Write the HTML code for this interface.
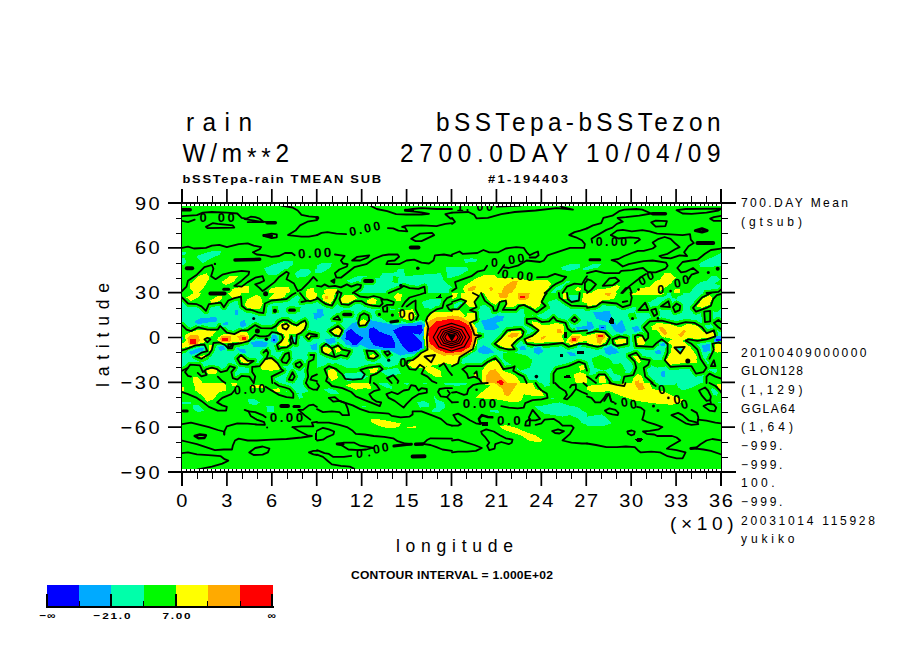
<!DOCTYPE html>
<html><head><meta charset="utf-8"><title>rain bSSTepa-bSSTezon</title>
<style>html,body{margin:0;padding:0;background:#fff}svg{display:block}text{fill:#000;white-space:pre}</style></head><body>
<svg width="904" height="654" viewBox="0 0 904 654">
<rect width="904" height="654" fill="#fff"/>
<g shape-rendering="crispEdges">
<rect x="168" y="202" width="568" height="2"/><rect x="168" y="471" width="568" height="2"/>
<rect x="181" y="189" width="2" height="297"/><rect x="720" y="189" width="2" height="297"/>
</g>
<defs><clipPath id="fc"><rect x="182" y="204" width="539" height="267"/></clipPath></defs>
<g clip-path="url(#fc)" shape-rendering="crispEdges">
<rect x="182" y="204" width="539" height="267" fill="#00fa00"/>
<polygon points="182.0,252.0 187.2,251.5 185.0,254.5 182.0,255.0" fill="#00ffaa"/>
<polygon points="182.0,257.5 185.0,258.3 186.5,262.0 183.5,265.0 182.0,265.0" fill="#00ffaa"/>
<polygon points="196.2,256.0 211.9,251.1 220.8,251.5 220.1,254.5 209.6,259.0 202.9,263.5 199.9,260.5" fill="#00ffaa"/>
<polygon points="264.1,268.7 271.6,265.0 286.5,260.5 293.3,260.5 293.3,264.2 285.0,270.9 277.6,274.7 267.9,274.7" fill="#00ffaa"/>
<polygon points="294.7,273.2 301.5,268.7 308.9,268.7 311.2,272.4 305.9,276.9 297.0,277.7" fill="#00ffaa"/>
<polygon points="314.9,268.7 317.0,268.7 317.0,273.2 314.9,272.4" fill="#00ffaa"/>
<polygon points="317.0,265.7 323.0,262.7 331.9,263.5 330.4,267.2 323.0,272.4 317.0,273.2" fill="#00ffaa"/>
<polygon points="346.9,280.7 357.3,276.2 366.3,275.9 368.5,279.2 379.7,277.7 382.7,273.2 396.1,272.4 398.4,268.7 403.6,268.7 405.1,276.2 421.5,274.7 440.9,273.2 443.9,280.7 452.0,287.4 452.0,293.0 357.3,293.0 360.3,286.6 346.9,283.6" fill="#00ffaa"/>
<polygon points="446.2,267.2 452.0,267.2 452.0,277.7 446.9,277.7" fill="#00ffaa"/>
<polygon points="463.2,259.7 471.4,258.3 477.4,259.0 475.9,262.0 465.4,262.7" fill="#00ffaa"/>
<polygon points="452.0,267.2 466.9,267.2 468.4,270.2 458.0,276.2 452.0,276.9" fill="#00ffaa"/>
<polygon points="561.0,267.2 571.5,263.5 580.4,264.2 579.7,268.0 570.0,270.9 562.5,270.2" fill="#00ffaa"/>
<polygon points="583.4,268.0 587.0,266.5 587.0,270.2 583.4,270.2" fill="#00ffaa"/>
<polygon points="550.6,293.0 556.5,285.9 562.5,282.1 570.0,280.7 571.5,283.6 565.5,288.1 562.5,293.0" fill="#00ffaa"/>
<polygon points="587.0,267.2 593.0,264.2 601.9,264.2 596.0,268.7 587.0,270.2" fill="#00ffaa"/>
<polygon points="698.3,264.2 706.5,259.7 716.9,255.3 722.0,252.3 722.0,265.7 713.9,266.5 706.5,267.2 700.5,266.5" fill="#00ffaa"/>
<polygon points="690.0,293.0 694.5,286.6 700.5,282.1 706.5,280.7 710.9,276.2 716.9,276.2 719.9,279.2 715.4,283.6 722.0,286.6 722.0,293.0" fill="#00ffaa"/>
<polygon points="182.0,300.5 188.0,303.5 196.9,304.2 201.4,306.4 205.9,310.9 208.9,304.2 220.8,302.7 223.8,307.2 228.3,300.5 234.3,298.2 241.0,296.7 241.7,305.7 246.2,309.4 252.2,310.2 258.2,312.4 263.4,313.2 264.9,303.5 271.6,300.5 286.5,299.0 292.5,294.5 300.0,294.5 305.9,300.5 310.4,301.2 317.0,299.0 317.0,383.0 182.0,383.0" fill="#00ffaa"/>
<polygon points="317.0,302.0 326.0,306.4 331.9,306.4 339.4,303.5 354.3,301.2 367.8,303.5 381.2,306.4 394.7,309.4 400.6,307.9 406.6,310.9 418.5,319.9 424.5,321.4 427.5,328.8 427.5,348.3 421.5,351.2 415.6,355.7 400.6,358.7 397.6,364.7 388.7,367.7 382.7,366.2 376.7,364.7 361.8,367.7 346.9,367.7 336.4,363.2 326.0,364.7 317.0,367.7" fill="#00ffaa"/>
<polygon points="421.5,302.0 430.5,299.0 440.9,299.0 443.9,304.9 436.5,309.4 424.5,307.9" fill="#00ffaa"/>
<polygon points="475.9,306.4 486.3,304.9 493.8,309.4 502.8,309.4 514.7,307.9 523.7,309.4 535.6,310.9 547.6,302.0 556.5,299.0 559.5,293.0 587.0,293.0 587.0,383.0 535.6,383.0 526.7,378.1 517.7,373.6 511.7,367.7 502.8,364.7 495.3,358.7 487.8,361.7 481.9,366.2 466.9,366.2 461.0,363.2 458.0,357.2 466.9,352.7 472.9,348.3 475.9,337.8 474.4,327.3 477.4,318.4 474.4,312.4" fill="#00ffaa"/>
<polygon points="587.0,293.0 722.0,293.0 722.0,383.0 587.0,383.0" fill="#00ffaa"/>
<polygon points="247.7,398.7 253.7,398.7 259.7,402.4 255.2,405.4 249.2,403.9" fill="#00ffaa"/>
<polygon points="192.5,405.4 198.4,405.4 204.4,410.6 198.4,412.1 193.9,409.9" fill="#00ffaa"/>
<polygon points="266.4,406.1 273.8,406.1 273.8,412.1 267.1,412.1" fill="#00ffaa"/>
<polygon points="182.0,402.4 191.0,402.4 191.0,403.9 182.0,403.9" fill="#00ffaa"/>
<polygon points="301.5,383.0 308.9,383.0 310.4,389.0 305.9,391.2 301.5,387.5" fill="#00ffaa"/>
<polygon points="297.0,393.5 301.5,393.5 303.7,397.9 299.2,398.7" fill="#00ffaa"/>
<polygon points="280.6,383.0 307.4,383.0 310.4,390.8 301.5,393.8 286.5,392.3 282.1,387.8" fill="#00ffaa"/>
<polygon points="323.0,389.7 328.9,388.2 336.4,390.5 339.4,394.2 330.4,393.5" fill="#00ffaa"/>
<polygon points="376.7,383.0 391.7,383.0 392.4,389.0 385.7,387.5" fill="#00ffaa"/>
<polygon points="403.6,383.0 409.6,383.0 406.6,385.2" fill="#00ffaa"/>
<polygon points="421.5,383.0 427.5,383.0 426.0,384.5" fill="#00ffaa"/>
<polygon points="417.1,402.4 423.0,400.9 429.0,403.2 429.0,406.9 420.0,407.6" fill="#00ffaa"/>
<polygon points="433.5,394.9 436.5,399.4 443.9,402.4 445.4,406.9 439.5,412.1 430.5,411.4 436.5,406.9" fill="#00ffaa"/>
<polygon points="443.9,383.0 452.0,383.0 452.0,386.0 445.4,385.2" fill="#00ffaa"/>
<polygon points="361.1,406.1 365.5,405.7 365.5,406.9 361.1,407.2" fill="#00ffaa"/>
<polygon points="534.9,406.1 544.6,405.4 553.5,403.2 559.5,402.4 568.5,405.4 577.4,406.9 583.4,411.4 587.0,412.9 587.0,424.8 581.9,423.3 578.9,418.8 570.0,415.1 562.5,416.6 553.5,415.1 544.6,413.6 538.6,409.9" fill="#00ffaa"/>
<polygon points="541.6,383.0 549.1,383.0 550.6,386.0 544.6,386.7" fill="#00ffaa"/>
<polygon points="549.1,397.9 553.5,397.9 553.5,399.4 549.1,399.4" fill="#00ffaa"/>
<polygon points="489.3,409.9 499.8,410.6 498.3,412.9 490.8,412.1" fill="#00ffaa"/>
<polygon points="452.0,383.0 466.9,383.0 465.4,385.2 452.0,386.0" fill="#00ffaa"/>
<polygon points="587.0,416.6 596.0,415.1 601.9,414.4 607.9,418.8 611.6,423.3 604.9,425.6 594.5,426.3 587.0,426.3" fill="#00ffaa"/>
<polygon points="676.6,383.0 700.5,383.0 691.5,387.5 682.6,390.5 678.1,387.5" fill="#00ffaa"/>
<polygon points="709.5,389.0 713.9,388.2 718.4,392.0 716.9,395.7 712.4,394.2" fill="#00ffaa"/>
<polygon points="718.4,401.7 722.0,401.7 722.0,403.2 718.4,403.2" fill="#00ffaa"/>
<polygon points="657.2,383.0 676.6,383.0 675.1,384.5 658.7,384.5" fill="#00ffaa"/>
<path d="M182.0 209.7L190.2 209.7" fill="none" stroke="#00fa00" stroke-width="7.9" stroke-linejoin="round" stroke-linecap="round"/>
<path d="M182.0 216.1L196.9 215.2L202.9 212.7L211.9 212.0L226.8 212.7L237.3 213.5L241.7 217.9L246.2 218.7L250.7 216.7L255.2 217.2L259.7 218.7L263.4 221.7L268.6 222.4" fill="none" stroke="#00fa00" stroke-width="6.2" stroke-linejoin="round" stroke-linecap="round"/>
<path d="M267.1 222.7L275.3 222.7" fill="none" stroke="#00fa00" stroke-width="7.9" stroke-linejoin="round" stroke-linecap="round"/>
<path d="M182.0 220.9L188.0 222.1L194.7 219.7" fill="none" stroke="#00fa00" stroke-width="6.2" stroke-linejoin="round" stroke-linecap="round"/>
<path d="M205.9 226.9L212.6 223.2L217.8 223.9L232.8 225.4L234.3 227.6L207.4 228.1Z" fill="#00fa00" stroke="#00fa00" stroke-width="6.2" stroke-linejoin="round" stroke-linecap="round"/>
<path d="M244.7 219.1L263.4 222.1L247.7 222.1" fill="none" stroke="#00fa00" stroke-width="6.2" stroke-linejoin="round" stroke-linecap="round"/>
<path d="M281.3 205.7L292.5 207.5L297.7 210.5L301.5 214.9L308.9 216.4L317.0 217.2" fill="none" stroke="#00fa00" stroke-width="6.2" stroke-linejoin="round" stroke-linecap="round"/>
<path d="M317.0 220.2L307.4 221.7L300.0 225.4L295.5 230.6L288.0 235.1L301.5 236.6L308.9 236.6L317.0 235.1" fill="none" stroke="#00fa00" stroke-width="6.2" stroke-linejoin="round" stroke-linecap="round"/>
<path d="M263.8 235.1L271.6 233.6L276.8 234.4L276.8 237.3L271.6 238.1L263.8 235.9Z" fill="#00fa00" stroke="#00fa00" stroke-width="6.2" stroke-linejoin="round" stroke-linecap="round"/>
<path d="M263.8 235.4L271.6 235.9" fill="none" stroke="#00fa00" stroke-width="7.4" stroke-linejoin="round" stroke-linecap="round"/>
<path d="M182.0 247.8L188.0 246.6L193.9 248.5L205.9 247.8L211.9 245.6L219.3 244.8L226.8 247.1L238.7 244.1L247.7 243.3L253.7 245.6L261.1 247.1L259.7 249.3L252.9 252.3L256.7 254.5L265.6 255.3L271.6 256.8L279.1 256.0L285.0 253.0L291.8 253.0L294.7 255.3" fill="none" stroke="#00fa00" stroke-width="6.2" stroke-linejoin="round" stroke-linecap="round"/>
<path d="M235.0 260.0L259.7 259.3" fill="none" stroke="#00fa00" stroke-width="7.9" stroke-linejoin="round" stroke-linecap="round"/>
<path d="M186.8 268.3L192.2 268.3" fill="none" stroke="#00fa00" stroke-width="8.4" stroke-linejoin="round" stroke-linecap="round"/>
<path d="M182.0 291.1L186.5 286.6L188.0 280.7L196.9 274.7L204.4 267.2L211.9 265.0L213.4 268.7L211.1 276.2L215.6 279.2L222.3 274.7L231.3 272.4L241.7 270.9L249.2 271.7L248.5 274.7L241.7 280.7L234.3 285.9L241.7 286.6L247.7 282.1L255.2 277.7L262.6 276.2L264.1 280.7L259.7 282.9L255.2 284.4L259.7 288.1L262.6 291.1L265.6 288.9L274.6 282.1L279.1 276.9L286.5 271.7L288.8 273.2L286.5 279.2L289.5 280.7L294.0 283.6L297.7 291.1L301.5 289.6L308.9 282.1L313.4 276.9L317.0 280.7" fill="none" stroke="#00fa00" stroke-width="6.2" stroke-linejoin="round" stroke-linecap="round"/>
<path d="M223.8 289.2L228.6 289.2" fill="none" stroke="#00fa00" stroke-width="7.4" stroke-linejoin="round" stroke-linecap="round"/>
<path d="M368.5 204.8L376.7 209.0L387.2 211.2L396.1 214.2L406.6 214.5L421.5 214.5L429.0 213.8L421.5 212.3L409.6 211.2L405.9 210.2L412.6 209.0L421.5 208.2L436.5 209.0L452.0 209.0" fill="none" stroke="#00fa00" stroke-width="6.2" stroke-linejoin="round" stroke-linecap="round"/>
<path d="M405.4 210.2L412.6 210.5" fill="none" stroke="#00fa00" stroke-width="7.4" stroke-linejoin="round" stroke-linecap="round"/>
<path d="M452.0 212.7L445.4 214.2L450.7 218.7L452.0 218.7" fill="none" stroke="#00fa00" stroke-width="6.2" stroke-linejoin="round" stroke-linecap="round"/>
<path d="M317.0 235.1L321.5 232.9L327.5 232.1L336.4 233.6L346.1 234.1" fill="none" stroke="#00fa00" stroke-width="6.2" stroke-linejoin="round" stroke-linecap="round"/>
<path d="M387.9 228.1L393.2 228.4L398.4 230.6L407.3 231.4L405.1 227.6L402.1 226.9L406.6 225.7L421.5 225.4L436.5 226.1L445.4 223.9L452.0 223.2" fill="none" stroke="#00fa00" stroke-width="6.2" stroke-linejoin="round" stroke-linecap="round"/>
<path d="M411.1 238.8L420.0 233.6L432.0 232.9L434.2 235.1L421.5 241.1L415.6 241.1Z" fill="#00fa00" stroke="#00fa00" stroke-width="6.2" stroke-linejoin="round" stroke-linecap="round"/>
<path d="M410.8 247.4L418.5 247.4" fill="none" stroke="#00fa00" stroke-width="8.4" stroke-linejoin="round" stroke-linecap="round"/>
<path d="M334.9 254.5L340.9 255.3L344.6 256.0L340.9 260.5L343.1 263.5L347.6 264.2L346.9 266.5L339.4 269.5L334.9 273.2L336.4 277.7L340.9 277.7L354.3 267.2L366.3 264.2L373.7 259.0L382.7 255.3L388.7 254.5L397.6 254.5L399.1 256.8L394.7 260.5L387.9 261.2L386.4 264.2L399.1 264.2L406.6 260.5L414.1 259.7L421.5 262.7L429.0 263.5L433.5 260.5L435.0 255.3L443.9 254.5L452.0 256.0" fill="none" stroke="#00fa00" stroke-width="6.2" stroke-linejoin="round" stroke-linecap="round"/>
<path d="M352.1 260.5L357.3 256.8L369.3 255.3L367.8 257.5L360.3 260.5Z" fill="#00fa00" stroke="#00fa00" stroke-width="6.2" stroke-linejoin="round" stroke-linecap="round"/>
<path d="M331.2 281.0L334.6 279.2L334.2 282.9Z" fill="#00fa00" stroke="#00fa00" stroke-width="6.2" stroke-linejoin="round" stroke-linecap="round"/>
<path d="M365.1 281.0L372.0 281.0" fill="none" stroke="#00fa00" stroke-width="8.4" stroke-linejoin="round" stroke-linecap="round"/>
<path d="M317.0 285.9L321.5 286.6L324.5 284.4L328.9 286.6L334.9 285.9L340.9 287.4L346.9 284.4L351.3 286.6L357.3 284.4L361.1 285.1L360.3 288.1L355.8 291.1L352.8 293.0" fill="none" stroke="#00fa00" stroke-width="6.2" stroke-linejoin="round" stroke-linecap="round"/>
<path d="M336.4 293.0L337.9 291.1L340.9 293.0" fill="none" stroke="#00fa00" stroke-width="6.2" stroke-linejoin="round" stroke-linecap="round"/>
<path d="M388.7 293.0L400.6 288.1L403.6 285.9L409.6 288.1L418.5 288.9L424.5 286.6L425.3 293.0" fill="none" stroke="#00fa00" stroke-width="6.2" stroke-linejoin="round" stroke-linecap="round"/>
<path d="M452.0 212.7L468.4 212.0L474.4 214.9L476.6 218.4L487.8 217.9L501.3 214.2L514.7 212.0L535.6 210.5L556.5 208.2L573.0 209.7L562.5 207.2L559.5 205.2" fill="none" stroke="#00fa00" stroke-width="6.2" stroke-linejoin="round" stroke-linecap="round"/>
<path d="M496.8 206.7L520.7 205.5" fill="none" stroke="#00fa00" stroke-width="6.2" stroke-linejoin="round" stroke-linecap="round"/>
<path d="M452.0 217.9L455.0 221.7L452.0 223.9" fill="none" stroke="#00fa00" stroke-width="6.2" stroke-linejoin="round" stroke-linecap="round"/>
<path d="M587.0 228.4L580.4 230.6L574.5 232.1L569.2 235.1L575.9 237.3L581.9 240.3L584.9 244.1L584.2 247.8L570.0 247.8L556.5 252.3L547.6 255.3L543.8 260.5L540.1 262.0L526.7 260.5L517.7 265.7L508.7 268.0L502.8 267.2" fill="none" stroke="#00fa00" stroke-width="6.2" stroke-linejoin="round" stroke-linecap="round"/>
<path d="M452.0 254.5L459.5 251.5L462.5 253.8L477.4 253.0L483.4 250.0L489.3 252.3L498.3 252.3L505.8 248.5L516.2 247.1L523.7 247.8L526.7 252.3L529.7 255.3L534.1 253.0L537.9 251.5L538.6 255.3L535.6 257.5L529.7 257.5" fill="none" stroke="#00fa00" stroke-width="6.2" stroke-linejoin="round" stroke-linecap="round"/>
<path d="M452.0 291.1L456.5 288.1L455.0 282.1L461.0 279.9L471.4 276.2L477.4 271.7L484.1 270.2L487.1 265.7" fill="none" stroke="#00fa00" stroke-width="6.2" stroke-linejoin="round" stroke-linecap="round"/>
<path d="M498.3 273.2L504.3 265.0" fill="none" stroke="#00fa00" stroke-width="6.2" stroke-linejoin="round" stroke-linecap="round"/>
<path d="M537.1 277.4L547.6 276.9L555.0 273.9L562.5 276.2L566.2 276.9L562.5 280.7L556.5 283.6L552.1 286.6L547.6 291.1L544.6 293.0" fill="none" stroke="#00fa00" stroke-width="6.2" stroke-linejoin="round" stroke-linecap="round"/>
<path d="M562.5 293.0L567.0 286.6L574.5 283.6L581.9 284.4L584.9 279.2L587.0 276.2" fill="none" stroke="#00fa00" stroke-width="6.2" stroke-linejoin="round" stroke-linecap="round"/>
<path d="M587.0 280.7L584.9 282.9L584.9 289.6L587.0 291.1" fill="none" stroke="#00fa00" stroke-width="6.2" stroke-linejoin="round" stroke-linecap="round"/>
<path d="M587.0 228.4L593.0 225.4L601.2 223.2L603.4 217.9L612.4 215.7L619.1 211.2L624.3 209.7L636.3 209.0L642.3 209.7L651.2 213.5L665.4 213.8" fill="none" stroke="#00fa00" stroke-width="6.2" stroke-linejoin="round" stroke-linecap="round"/>
<path d="M652.7 213.8L665.4 213.8" fill="none" stroke="#00fa00" stroke-width="7.9" stroke-linejoin="round" stroke-linecap="round"/>
<path d="M651.2 213.5L639.3 215.7L625.8 217.2L617.6 217.9L622.8 221.7L616.9 223.9L612.4 227.6L606.4 229.9L597.5 235.1L591.5 238.8L592.2 242.6" fill="none" stroke="#00fa00" stroke-width="6.2" stroke-linejoin="round" stroke-linecap="round"/>
<path d="M651.2 222.4L655.7 220.6L666.9 221.2L665.4 226.1L655.7 226.6Z" fill="#00fa00" stroke="#00fa00" stroke-width="6.2" stroke-linejoin="round" stroke-linecap="round"/>
<path d="M676.6 210.2L685.6 209.0L721.4 208.7L718.4 210.5L706.5 212.7L691.5 213.8L682.6 213.5Z" fill="#00fa00" stroke="#00fa00" stroke-width="6.2" stroke-linejoin="round" stroke-linecap="round"/>
<path d="M722.0 215.7L713.9 217.2L710.2 218.7L713.9 220.9L722.0 220.9" fill="none" stroke="#00fa00" stroke-width="6.2" stroke-linejoin="round" stroke-linecap="round"/>
<path d="M695.3 230.6L702.0 228.7L707.2 230.6L702.0 232.1Z" fill="#00fa00" stroke="#00fa00" stroke-width="7.4" stroke-linejoin="round" stroke-linecap="round"/>
<path d="M697.5 243.0L713.2 243.0" fill="none" stroke="#00fa00" stroke-width="8.4" stroke-linejoin="round" stroke-linecap="round"/>
<path d="M610.9 235.1L616.9 230.6L622.8 229.9L631.8 231.4L642.3 230.2L649.7 231.4L657.2 233.6L670.6 234.4L682.6 235.1L690.0 234.1L690.8 239.6L693.8 243.0L688.5 246.3L684.1 252.3L687.1 256.0L679.6 255.3L670.6 258.3L661.7 257.5L659.4 256.0L667.6 253.8L675.1 249.3L679.6 247.1L675.1 243.3L670.6 238.8L664.7 237.0L658.7 238.8L652.7 242.6L655.7 246.3L652.7 248.5L643.7 250.8L637.8 250.8L631.8 253.0L624.3 256.0L618.4 259.0L611.6 260.2L616.9 262.0L622.8 266.5L628.8 264.2L643.7 261.2L652.7 260.5L666.1 262.7L667.6 265.7L665.4 268.7L661.7 270.2L655.7 272.4L648.2 272.4L643.0 268.0L638.5 268.7L631.8 270.2L621.3 270.9L619.1 273.2L604.9 273.2L596.0 270.9L587.0 273.2" fill="none" stroke="#00fa00" stroke-width="6.2" stroke-linejoin="round" stroke-linecap="round"/>
<path d="M610.9 235.1L618.4 238.5L630.3 237.3L638.5 238.1L640.0 239.6L634.8 243.3" fill="none" stroke="#00fa00" stroke-width="6.2" stroke-linejoin="round" stroke-linecap="round"/>
<path d="M590.0 259.7L599.7 259.7" fill="none" stroke="#00fa00" stroke-width="7.4" stroke-linejoin="round" stroke-linecap="round"/>
<path d="M722.0 248.5L710.9 250.0L705.0 253.8L697.5 259.7L691.5 260.5L682.6 262.0L677.3 268.0L681.1 272.4L685.6 271.7L693.0 268.0L698.3 272.4L691.5 274.7L688.5 279.2" fill="none" stroke="#00fa00" stroke-width="6.2" stroke-linejoin="round" stroke-linecap="round"/>
<path d="M622.8 293.0L628.8 286.6L636.3 280.7L642.3 276.2L646.0 273.9" fill="none" stroke="#00fa00" stroke-width="6.2" stroke-linejoin="round" stroke-linecap="round"/>
<path d="M602.7 285.9L609.4 278.4L615.4 277.7L619.1 280.7L613.1 285.1Z" fill="#00fa00" stroke="#00fa00" stroke-width="6.2" stroke-linejoin="round" stroke-linecap="round"/>
<path d="M587.0 279.2L591.5 280.7L596.0 284.4L591.5 289.6L587.0 293.0" fill="none" stroke="#00fa00" stroke-width="6.2" stroke-linejoin="round" stroke-linecap="round"/>
<path d="M621.3 293.0L625.8 288.1L629.6 287.4L631.8 293.0" fill="none" stroke="#00fa00" stroke-width="6.2" stroke-linejoin="round" stroke-linecap="round"/>
<path d="M722.0 288.9L718.4 291.9L706.5 293.0" fill="none" stroke="#00fa00" stroke-width="6.2" stroke-linejoin="round" stroke-linecap="round"/>
<path d="M182.0 297.5L188.0 303.5L196.9 304.2L201.4 306.4L205.9 310.9L208.9 304.2L220.8 302.7L223.8 307.2L228.3 300.5L234.3 298.2L241.0 296.7L241.7 305.7L246.2 309.4L252.2 310.2L258.2 312.4L263.4 313.2L264.9 303.5L271.6 300.5L286.5 299.0L292.5 294.5L295.5 293.0" fill="none" stroke="#00fa00" stroke-width="6.2" stroke-linejoin="round" stroke-linecap="round"/>
<path d="M300.0 293.0L305.9 300.5L310.4 301.2L317.0 299.0" fill="none" stroke="#00fa00" stroke-width="6.2" stroke-linejoin="round" stroke-linecap="round"/>
<path d="M301.5 302.0L305.9 301.2" fill="none" stroke="#00fa00" stroke-width="6.2" stroke-linejoin="round" stroke-linecap="round"/>
<path d="M210.4 293.4L224.6 293.4" fill="none" stroke="#00fa00" stroke-width="8.4" stroke-linejoin="round" stroke-linecap="round"/>
<path d="M289.8 310.2L294.3 310.2" fill="none" stroke="#00fa00" stroke-width="7.6" stroke-linejoin="round" stroke-linecap="round"/>
<path d="M182.0 325.1L186.5 329.6L191.0 331.1L198.4 327.3L207.4 329.6L217.8 329.6L220.1 325.9L226.8 332.6L234.3 334.1L241.7 330.3L247.7 330.3L255.2 325.1L261.1 328.1L271.6 328.4L275.9 325.9L278.9 322.0L283.0 319.9L287.9 320.5L291.9 323.5L296.8 325.4L300.9 322.4L304.9 320.5L306.4 323.9L304.9 328.8L300.9 332.9L296.8 334.8L295.9 343.8L293.4 342.9L291.5 335.9L290.0 339.9L291.5 343.8L287.0 347.4L281.9 347.8L278.5 349.3L277.0 344.8L281.0 341.8L283.0 338.8L281.9 334.8L277.0 332.9L272.0 332.1L268.6 335.6L265.6 336.3L259.7 336.3L255.2 334.8L249.2 340.8L241.7 343.0L232.8 344.5L228.3 348.3L225.3 345.3L219.3 342.3L213.4 343.0L211.9 349.7L208.9 354.2L201.4 358.7L195.4 356.5L201.4 352.7L207.4 351.2L204.4 344.5L195.4 345.3L186.5 349.0L182.0 350.5" fill="none" stroke="#00fa00" stroke-width="6.2" stroke-linejoin="round" stroke-linecap="round"/>
<path d="M204.4 339.3L207.4 337.8L210.4 339.3L207.4 342.3Z" fill="#00fa00" stroke="#00fa00" stroke-width="6.2" stroke-linejoin="round" stroke-linecap="round"/>
<path d="M282.1 325.1L286.5 323.6L288.8 325.9L286.5 329.6L282.8 328.1Z" fill="#00fa00" stroke="#00fa00" stroke-width="6.2" stroke-linejoin="round" stroke-linecap="round"/>
<path d="M228.3 344.5L233.5 343.8L232.0 348.3L228.3 348.3Z" fill="#00fa00" stroke="#00fa00" stroke-width="6.2" stroke-linejoin="round" stroke-linecap="round"/>
<path d="M317.0 334.8L308.9 333.3L305.9 336.3L308.9 339.3L311.2 336.3L317.0 336.3" fill="none" stroke="#00fa00" stroke-width="6.2" stroke-linejoin="round" stroke-linecap="round"/>
<path d="M263.4 352.7L266.4 349.7L268.3 352.7L266.4 358.7" fill="none" stroke="#00fa00" stroke-width="6.2" stroke-linejoin="round" stroke-linecap="round"/>
<path d="M237.3 358.7L241.0 355.0L247.7 360.9L253.7 360.9L247.7 364.7L240.2 363.9Z" fill="#00fa00" stroke="#00fa00" stroke-width="6.2" stroke-linejoin="round" stroke-linecap="round"/>
<path d="M265.6 358.7L271.6 358.0L277.6 363.2L281.3 369.2L283.5 370.7L277.6 373.6L271.6 376.6L272.3 383.0" fill="none" stroke="#00fa00" stroke-width="6.2" stroke-linejoin="round" stroke-linecap="round"/>
<path d="M253.7 383.0L255.2 376.6L252.2 372.1L252.2 366.9L259.7 366.2L265.6 358.7" fill="none" stroke="#00fa00" stroke-width="6.2" stroke-linejoin="round" stroke-linecap="round"/>
<path d="M281.3 360.2L285.0 354.2L288.8 352.7L289.5 358.7L286.5 363.2L282.8 362.4Z" fill="#00fa00" stroke="#00fa00" stroke-width="6.2" stroke-linejoin="round" stroke-linecap="round"/>
<path d="M295.5 363.9L300.0 361.7L302.2 364.7L299.2 367.7L296.2 366.2Z" fill="#00fa00" stroke="#00fa00" stroke-width="6.2" stroke-linejoin="round" stroke-linecap="round"/>
<path d="M288.8 379.6L292.5 372.1L294.7 376.6L292.5 380.4Z" fill="#00fa00" stroke="#00fa00" stroke-width="6.2" stroke-linejoin="round" stroke-linecap="round"/>
<path d="M310.4 355.0L314.2 355.0L313.4 359.5L308.9 361.7L307.4 370.7L308.2 376.6L305.9 383.0" fill="none" stroke="#00fa00" stroke-width="6.2" stroke-linejoin="round" stroke-linecap="round"/>
<path d="M317.0 374.4L311.9 376.6L310.4 379.6L317.0 381.1" fill="none" stroke="#00fa00" stroke-width="6.2" stroke-linejoin="round" stroke-linecap="round"/>
<path d="M182.0 370.7L188.0 367.7L190.2 364.7L199.9 365.4L202.9 372.1L206.6 369.2L211.9 367.7L217.1 369.2L220.8 372.1L226.8 370.7L229.8 366.2L235.0 367.7L231.3 372.1L232.8 378.1L237.3 379.6L241.7 375.9L249.2 376.6L253.7 383.0" fill="none" stroke="#00fa00" stroke-width="6.2" stroke-linejoin="round" stroke-linecap="round"/>
<path d="M188.0 367.7L185.0 372.1L188.0 375.9L191.0 376.6" fill="none" stroke="#00fa00" stroke-width="6.2" stroke-linejoin="round" stroke-linecap="round"/>
<path d="M197.7 372.9L201.4 376.3L206.6 374.8L204.4 370.7" fill="none" stroke="#00fa00" stroke-width="6.2" stroke-linejoin="round" stroke-linecap="round"/>
<path d="M217.8 376.6L222.3 381.1L225.3 383.0" fill="none" stroke="#00fa00" stroke-width="6.2" stroke-linejoin="round" stroke-linecap="round"/>
<path d="M317.0 297.5L321.5 301.2L326.0 304.2L331.9 305.7L336.4 297.5L337.9 293.0" fill="none" stroke="#00fa00" stroke-width="6.2" stroke-linejoin="round" stroke-linecap="round"/>
<path d="M341.6 293.0L339.4 299.0L341.6 304.2L348.4 304.9L354.3 301.2L361.8 301.2L366.3 304.2L372.3 305.7L379.7 306.4L382.7 303.5L381.2 299.7L387.2 299.7L393.9 302.0L393.2 304.9L387.2 304.9L382.7 307.2L383.5 311.7L387.2 311.7L387.2 307.2" fill="none" stroke="#00fa00" stroke-width="6.2" stroke-linejoin="round" stroke-linecap="round"/>
<path d="M354.3 293.0L360.3 296.7L367.8 297.5L373.7 296.0L379.7 297.5L382.7 299.0" fill="none" stroke="#00fa00" stroke-width="6.2" stroke-linejoin="round" stroke-linecap="round"/>
<path d="M402.1 306.4L405.1 302.0L409.6 297.5L420.0 294.5L424.5 293.0" fill="none" stroke="#00fa00" stroke-width="6.2" stroke-linejoin="round" stroke-linecap="round"/>
<path d="M406.6 306.4L412.6 302.0L415.6 300.5L415.6 309.4L418.5 315.4L416.3 319.6" fill="none" stroke="#00fa00" stroke-width="6.2" stroke-linejoin="round" stroke-linecap="round"/>
<path d="M452.0 296.0L446.9 298.2L443.9 302.0L442.4 307.9L436.5 309.4L430.5 313.2L427.5 316.9L426.0 320.6L428.3 327.3L426.8 337.8L427.5 349.7L421.5 352.7L418.5 355.7L412.6 360.2L407.3 360.9L406.6 364.7L409.6 369.2L415.6 369.9L420.0 364.7L424.5 367.7L421.5 373.6L427.5 376.6L432.0 381.1L436.5 383.0" fill="none" stroke="#00fa00" stroke-width="6.2" stroke-linejoin="round" stroke-linecap="round"/>
<path d="M452.0 303.5L446.9 305.7L449.2 309.4L452.0 310.9" fill="none" stroke="#00fa00" stroke-width="6.2" stroke-linejoin="round" stroke-linecap="round"/>
<path d="M343.9 314.4L350.6 314.4" fill="none" stroke="#00fa00" stroke-width="7.9" stroke-linejoin="round" stroke-linecap="round"/>
<path d="M390.9 322.1L397.6 320.9" fill="none" stroke="#00fa00" stroke-width="7.4" stroke-linejoin="round" stroke-linecap="round"/>
<path d="M333.4 319.1L337.9 316.1L340.1 319.9Z" fill="#00fa00" stroke="#00fa00" stroke-width="6.2" stroke-linejoin="round" stroke-linecap="round"/>
<path d="M358.1 322.9L360.3 315.4L364.0 313.2L368.5 315.4L369.3 319.9L365.5 325.1L359.6 325.9Z" fill="#00fa00" stroke="#00fa00" stroke-width="6.2" stroke-linejoin="round" stroke-linecap="round"/>
<path d="M329.7 331.1L337.9 325.9L342.4 330.3L339.4 336.3L334.9 335.6Z" fill="#00fa00" stroke="#00fa00" stroke-width="6.2" stroke-linejoin="round" stroke-linecap="round"/>
<path d="M321.5 347.5L326.0 343.8L331.9 348.3L337.9 345.3L342.4 349.7L349.9 351.2L346.9 356.5L340.9 355.0L334.9 357.2L326.0 354.2L322.2 352.0Z" fill="#00fa00" stroke="#00fa00" stroke-width="6.2" stroke-linejoin="round" stroke-linecap="round"/>
<path d="M331.9 348.3L333.4 352.7L334.9 357.2" fill="none" stroke="#00fa00" stroke-width="6.2" stroke-linejoin="round" stroke-linecap="round"/>
<path d="M366.3 350.5L373.7 351.2L378.2 355.7L373.7 358.7L368.5 358.0Z" fill="#00fa00" stroke="#00fa00" stroke-width="6.2" stroke-linejoin="round" stroke-linecap="round"/>
<path d="M384.2 352.0L388.7 351.2L390.2 353.5L387.2 355.7Z" fill="#00fa00" stroke="#00fa00" stroke-width="6.2" stroke-linejoin="round" stroke-linecap="round"/>
<path d="M424.5 356.5L435.0 355.0L431.2 362.4Z" fill="#00fa00" stroke="#00fa00" stroke-width="6.2" stroke-linejoin="round" stroke-linecap="round"/>
<path d="M328.9 383.0L326.0 381.1L327.5 376.6L324.5 369.2L328.9 366.2L336.4 369.2L342.4 374.4L345.4 378.9L352.8 379.6L361.8 378.9L364.8 374.4L360.3 369.9L367.8 367.7L379.7 366.2L382.7 369.2L376.7 373.6L370.8 375.9L370.0 383.0" fill="none" stroke="#00fa00" stroke-width="6.2" stroke-linejoin="round" stroke-linecap="round"/>
<path d="M387.2 378.1L393.2 375.1L398.4 381.1L397.6 383.0" fill="none" stroke="#00fa00" stroke-width="6.2" stroke-linejoin="round" stroke-linecap="round"/>
<path d="M387.2 378.1L391.7 383.0" fill="none" stroke="#00fa00" stroke-width="6.2" stroke-linejoin="round" stroke-linecap="round"/>
<path d="M439.5 366.2L443.9 363.2L448.4 370.7L452.0 375.1" fill="none" stroke="#00fa00" stroke-width="6.2" stroke-linejoin="round" stroke-linecap="round"/>
<path d="M571.5 319.9L574.5 316.9L577.4 319.9L574.5 322.1Z" fill="#00fa00" stroke="#00fa00" stroke-width="6.2" stroke-linejoin="round" stroke-linecap="round"/>
<path d="M452.0 302.0L461.0 299.0L466.2 301.2L458.0 309.4L452.0 309.4" fill="none" stroke="#00fa00" stroke-width="6.2" stroke-linejoin="round" stroke-linecap="round"/>
<path d="M472.9 293.0L478.9 296.0L474.4 302.0L476.6 307.2L469.9 310.2L475.9 312.4L476.6 319.9L469.9 322.9L472.9 330.3L474.4 334.8L481.1 335.6L475.9 337.8L474.4 343.8L472.9 349.0L466.9 352.7L459.5 357.2L458.0 363.2L452.0 366.2" fill="none" stroke="#00fa00" stroke-width="6.2" stroke-linejoin="round" stroke-linecap="round"/>
<path d="M481.1 293.0L482.5 296.0L484.9 300.9L492.9 306.9L493.8 310.9L496.8 310.5L499.8 302.0L505.8 300.5L506.4 303.9L502.8 309.9L515.8 309.9L518.8 306.0L523.7 304.9L531.7 309.0L536.7 312.4L545.6 306.0L541.6 302.0L544.6 296.0L546.8 293.0" fill="none" stroke="#00fa00" stroke-width="6.2" stroke-linejoin="round" stroke-linecap="round"/>
<path d="M558.8 293.0L559.5 297.5L565.5 302.0L571.5 305.7L587.0 306.4" fill="none" stroke="#00fa00" stroke-width="6.2" stroke-linejoin="round" stroke-linecap="round"/>
<path d="M567.0 293.0L567.7 299.0L571.5 302.0L578.9 300.5L579.7 293.0" fill="none" stroke="#00fa00" stroke-width="6.2" stroke-linejoin="round" stroke-linecap="round"/>
<path d="M494.6 343.8L501.3 337.8L507.3 330.3L520.7 328.8L523.7 331.8L522.2 336.3L516.2 340.8L511.7 345.3L514.7 349.4L508.7 349.7L499.8 347.5Z" fill="#00fa00" stroke="#00fa00" stroke-width="6.2" stroke-linejoin="round" stroke-linecap="round"/>
<path d="M526.7 319.1L535.6 318.4L541.6 322.1L549.1 321.4L553.5 316.9L556.5 320.6L565.5 322.9L567.7 328.8L571.5 331.8L587.0 330.3" fill="none" stroke="#00fa00" stroke-width="6.2" stroke-linejoin="round" stroke-linecap="round"/>
<path d="M587.0 343.8L578.9 343.8L568.5 346.8L562.5 343.0L549.1 344.5L535.6 345.3L526.7 343.8L524.4 339.3L532.6 335.6L538.6 330.3L532.6 325.9L526.7 322.9L526.7 319.1" fill="none" stroke="#00fa00" stroke-width="6.2" stroke-linejoin="round" stroke-linecap="round"/>
<path d="M462.5 369.2L466.9 366.2L481.9 366.2L487.8 361.7L495.3 358.0L499.8 363.2L503.5 369.2L511.7 367.7L514.7 366.2L513.2 370.7L517.7 373.6L523.7 376.6L526.7 383.0" fill="none" stroke="#00fa00" stroke-width="6.2" stroke-linejoin="round" stroke-linecap="round"/>
<path d="M462.5 369.2L466.9 373.6L468.4 378.1L474.4 376.6L478.9 378.9L481.9 383.0" fill="none" stroke="#00fa00" stroke-width="6.2" stroke-linejoin="round" stroke-linecap="round"/>
<path d="M474.4 373.6L476.6 371.4L477.4 376.6" fill="none" stroke="#00fa00" stroke-width="6.2" stroke-linejoin="round" stroke-linecap="round"/>
<path d="M553.5 383.0L553.5 373.6L556.5 369.2L568.5 366.2L578.9 361.7L584.9 363.9L587.0 370.7" fill="none" stroke="#00fa00" stroke-width="6.2" stroke-linejoin="round" stroke-linecap="round"/>
<path d="M587.0 307.9L596.0 306.4L601.9 302.0L616.9 303.5L622.8 307.2L630.3 304.9L631.8 297.5L630.3 293.0" fill="none" stroke="#00fa00" stroke-width="6.2" stroke-linejoin="round" stroke-linecap="round"/>
<path d="M622.8 302.0L627.3 301.2" fill="none" stroke="#00fa00" stroke-width="6.2" stroke-linejoin="round" stroke-linecap="round"/>
<path d="M638.5 310.2L645.2 302.7L648.2 310.2Z" fill="#00fa00" stroke="#00fa00" stroke-width="6.2" stroke-linejoin="round" stroke-linecap="round"/>
<path d="M660.9 306.4L668.4 301.2L669.9 307.2Z" fill="#00fa00" stroke="#00fa00" stroke-width="6.2" stroke-linejoin="round" stroke-linecap="round"/>
<path d="M672.9 307.2L676.6 303.5L680.3 305.7L679.6 310.2L675.1 312.1Z" fill="#00fa00" stroke="#00fa00" stroke-width="6.2" stroke-linejoin="round" stroke-linecap="round"/>
<path d="M651.2 310.2L655.7 308.7L657.2 313.9L654.2 316.1Z" fill="#00fa00" stroke="#00fa00" stroke-width="6.2" stroke-linejoin="round" stroke-linecap="round"/>
<path d="M710.9 293.0L702.0 297.5L693.0 307.9L696.0 311.7L706.5 307.9L710.9 305.7L713.2 299.0L716.9 295.2L722.0 293.7" fill="none" stroke="#00fa00" stroke-width="6.2" stroke-linejoin="round" stroke-linecap="round"/>
<path d="M704.2 311.7L710.2 310.9L710.2 321.4L705.0 322.1Z" fill="#00fa00" stroke="#00fa00" stroke-width="6.2" stroke-linejoin="round" stroke-linecap="round"/>
<path d="M722.0 322.9L718.4 319.9L713.9 322.9L718.4 327.3L722.0 329.6" fill="none" stroke="#00fa00" stroke-width="6.2" stroke-linejoin="round" stroke-linecap="round"/>
<path d="M643.7 327.3L649.7 321.4L661.7 320.6L676.6 324.4L685.6 322.1L694.5 322.9L702.0 327.3L706.5 333.3L713.9 330.3L715.4 336.3L706.5 339.3L697.5 340.8L688.5 339.3L685.6 340.8L691.5 343.8L697.5 349.7L700.5 358.7L706.5 367.7L703.5 372.1L696.0 373.6L691.5 366.2L682.6 366.2L670.6 366.9L664.7 360.2L667.6 352.7L667.6 343.8L661.7 339.3L655.7 343.8L652.7 346.8L636.3 346.0L634.8 336.3L637.8 334.8L642.3 335.6L645.2 340.8L648.2 337.8L648.2 333.3Z" fill="#00fa00" stroke="#00fa00" stroke-width="6.2" stroke-linejoin="round" stroke-linecap="round"/>
<path d="M674.4 347.5L684.8 346.8L680.3 353.5Z" fill="#00fa00" stroke="#00fa00" stroke-width="6.2" stroke-linejoin="round" stroke-linecap="round"/>
<path d="M587.0 333.3L596.0 331.1L604.9 332.6L610.1 337.8L606.4 344.5L597.5 346.8L587.0 344.5" fill="none" stroke="#00fa00" stroke-width="6.2" stroke-linejoin="round" stroke-linecap="round"/>
<path d="M612.4 339.3L619.9 336.3L627.3 337.8L627.3 343.8L616.9 346.0L613.1 343.8Z" fill="#00fa00" stroke="#00fa00" stroke-width="6.2" stroke-linejoin="round" stroke-linecap="round"/>
<path d="M628.8 355.7L636.3 352.7L640.8 358.7L649.7 360.2L648.2 364.7L643.7 367.7L645.2 376.6L652.7 383.0" fill="none" stroke="#00fa00" stroke-width="6.2" stroke-linejoin="round" stroke-linecap="round"/>
<path d="M628.8 355.7L634.8 361.7L636.3 367.7L633.3 375.1L624.3 376.6L622.8 383.0" fill="none" stroke="#00fa00" stroke-width="6.2" stroke-linejoin="round" stroke-linecap="round"/>
<path d="M587.0 376.6L591.5 379.6L596.0 383.0" fill="none" stroke="#00fa00" stroke-width="6.2" stroke-linejoin="round" stroke-linecap="round"/>
<path d="M596.0 378.1L598.9 374.4L604.9 374.4L610.9 383.0" fill="none" stroke="#00fa00" stroke-width="6.2" stroke-linejoin="round" stroke-linecap="round"/>
<path d="M722.0 343.8L718.4 342.3L712.4 343.8L713.9 349.7L709.5 358.7" fill="none" stroke="#00fa00" stroke-width="6.2" stroke-linejoin="round" stroke-linecap="round"/>
<path d="M710.9 366.2L713.9 360.2L715.4 366.2Z" fill="#00fa00" stroke="#00fa00" stroke-width="6.2" stroke-linejoin="round" stroke-linecap="round"/>
<path d="M706.5 383.0L706.5 376.6L709.5 373.6L715.4 376.6L722.0 378.9" fill="none" stroke="#00fa00" stroke-width="6.2" stroke-linejoin="round" stroke-linecap="round"/>
<path d="M182.0 392.0L188.0 394.2L196.9 397.9L201.4 400.9L208.9 406.9L217.8 410.6L226.1 410.6L226.8 406.9L222.3 405.4L217.1 402.4L222.3 397.9L231.3 394.2L235.0 389.7" fill="none" stroke="#00fa00" stroke-width="6.2" stroke-linejoin="round" stroke-linecap="round"/>
<path d="M265.6 386.7L271.6 390.5L279.1 394.9L286.5 397.2L293.3 397.9L293.3 393.5L289.5 389.0L285.0 387.5L279.1 386.0L274.6 383.0" fill="none" stroke="#00fa00" stroke-width="6.2" stroke-linejoin="round" stroke-linecap="round"/>
<path d="M305.9 383.0L308.9 387.5L313.4 389.7L317.0 389.7" fill="none" stroke="#00fa00" stroke-width="6.2" stroke-linejoin="round" stroke-linecap="round"/>
<path d="M182.0 424.1L191.0 422.6L199.9 424.8L208.9 427.1L217.8 430.0L223.8 431.5L224.3 434.5" fill="none" stroke="#00fa00" stroke-width="6.2" stroke-linejoin="round" stroke-linecap="round"/>
<path d="M224.3 434.5L224.6 430.8L226.8 426.3L237.3 423.3L247.7 423.6L256.7 424.5L264.9 424.8L264.1 422.1L256.7 419.6L250.7 415.9L248.5 411.4L244.7 409.9" fill="none" stroke="#00fa00" stroke-width="6.2" stroke-linejoin="round" stroke-linecap="round"/>
<path d="M248.5 411.4L255.2 412.1L262.6 415.1L265.6 417.3" fill="none" stroke="#00fa00" stroke-width="6.2" stroke-linejoin="round" stroke-linecap="round"/>
<path d="M281.3 406.1L288.0 406.1" fill="none" stroke="#00fa00" stroke-width="8.4" stroke-linejoin="round" stroke-linecap="round"/>
<path d="M294.0 406.4L299.2 406.4" fill="none" stroke="#00fa00" stroke-width="7.4" stroke-linejoin="round" stroke-linecap="round"/>
<path d="M298.5 409.9L303.0 409.9L308.9 405.4L313.4 404.7L317.0 406.9" fill="none" stroke="#00fa00" stroke-width="6.2" stroke-linejoin="round" stroke-linecap="round"/>
<path d="M298.5 409.9L304.5 415.1L310.4 419.6" fill="none" stroke="#00fa00" stroke-width="6.2" stroke-linejoin="round" stroke-linecap="round"/>
<path d="M292.5 427.1L301.5 426.3L313.4 426.3L311.9 422.6L317.0 421.8" fill="none" stroke="#00fa00" stroke-width="6.2" stroke-linejoin="round" stroke-linecap="round"/>
<path d="M292.5 427.1L298.5 430.8L307.4 435.3L311.9 436.0L301.5 437.5L286.5 439.0L271.6 439.7L256.7 440.5L247.7 440.5L238.7 438.6L235.0 440.5L232.8 445.7L232.0 449.5L223.8 449.5L214.9 450.2L205.9 447.2L196.9 444.2L188.0 442.0L182.0 440.5" fill="none" stroke="#00fa00" stroke-width="6.2" stroke-linejoin="round" stroke-linecap="round"/>
<path d="M194.7 436.0L199.9 434.5L205.9 435.3L204.4 438.0L198.4 438.3Z" fill="#00fa00" stroke="#00fa00" stroke-width="6.9" stroke-linejoin="round" stroke-linecap="round"/>
<path d="M249.2 452.4L255.2 448.0L262.6 446.5L269.4 448.7L267.9 452.4L262.6 454.7L253.7 455.0Z" fill="#00fa00" stroke="#00fa00" stroke-width="6.2" stroke-linejoin="round" stroke-linecap="round"/>
<path d="M317.0 450.9L313.4 450.9L308.9 452.4L313.4 454.4L317.0 455.0" fill="none" stroke="#00fa00" stroke-width="6.2" stroke-linejoin="round" stroke-linecap="round"/>
<path d="M182.0 453.2L188.0 452.4L196.9 454.4L211.9 455.4L220.8 456.2L224.6 459.2L228.3 460.7L222.3 463.6L211.9 466.6L204.4 468.1L196.9 469.6L188.0 470.4L182.0 471.1" fill="none" stroke="#00fa00" stroke-width="6.2" stroke-linejoin="round" stroke-linecap="round"/>
<path d="M183.2 410.9L187.2 410.9" fill="none" stroke="#00fa00" stroke-width="7.4" stroke-linejoin="round" stroke-linecap="round"/>
<path d="M317.0 383.0L319.2 386.0L317.0 389.7" fill="none" stroke="#00fa00" stroke-width="6.2" stroke-linejoin="round" stroke-linecap="round"/>
<path d="M328.9 383.0L331.9 386.0L342.4 388.2L351.3 392.0L355.8 396.4L364.8 400.2L372.3 403.2L379.7 406.1L381.2 402.4L376.7 401.7L372.3 398.7L369.3 394.2L373.7 391.2L379.7 389.7L376.7 385.2L373.7 383.0" fill="none" stroke="#00fa00" stroke-width="6.2" stroke-linejoin="round" stroke-linecap="round"/>
<path d="M386.4 394.2L388.7 397.9L394.7 400.9L400.6 405.4L403.6 407.6L406.6 403.9L412.6 397.9L418.5 394.2L426.8 392.7L426.8 389.0L421.5 388.2L418.5 390.5L415.6 386.0L411.1 385.2L408.8 389.7L403.6 390.5L397.6 394.2L391.7 392.0Z" fill="#00fa00" stroke="#00fa00" stroke-width="6.2" stroke-linejoin="round" stroke-linecap="round"/>
<path d="M452.0 388.2L445.4 388.2L439.5 389.0L438.0 392.0L440.9 396.4L446.9 397.2L449.9 393.5L447.7 390.5" fill="none" stroke="#00fa00" stroke-width="6.2" stroke-linejoin="round" stroke-linecap="round"/>
<path d="M446.9 397.2L452.0 402.4" fill="none" stroke="#00fa00" stroke-width="6.2" stroke-linejoin="round" stroke-linecap="round"/>
<path d="M328.9 397.9L334.9 397.2L339.4 400.9L345.4 403.2L347.6 408.4L349.1 415.1L342.4 415.1L339.4 412.1L331.9 411.4L323.0 412.1L317.0 409.1" fill="none" stroke="#00fa00" stroke-width="6.2" stroke-linejoin="round" stroke-linecap="round"/>
<path d="M328.9 397.9L333.4 401.7L339.4 400.9" fill="none" stroke="#00fa00" stroke-width="6.2" stroke-linejoin="round" stroke-linecap="round"/>
<path d="M339.4 400.9L352.8 405.4L360.3 409.1L369.3 412.1L379.7 412.9L388.7 413.6L391.7 415.9L400.6 417.3L409.6 416.6L412.6 414.4L412.6 411.4L421.5 411.4L433.5 415.9L440.9 418.8L446.9 424.1L452.0 425.6" fill="none" stroke="#00fa00" stroke-width="6.2" stroke-linejoin="round" stroke-linecap="round"/>
<path d="M317.0 422.6L328.9 422.6L339.4 424.8L346.9 427.1L352.8 430.8L355.8 433.8L364.8 434.5L373.7 436.0L384.2 436.8L393.2 438.3L397.6 441.2L405.1 443.5L411.1 444.2" fill="none" stroke="#00fa00" stroke-width="6.2" stroke-linejoin="round" stroke-linecap="round"/>
<path d="M393.9 446.0L406.6 444.5L411.4 444.2" fill="none" stroke="#00fa00" stroke-width="7.4" stroke-linejoin="round" stroke-linecap="round"/>
<path d="M317.0 430.8L323.0 427.8L328.9 429.3L334.2 431.5L333.4 434.5L327.5 436.8L323.0 439.7L317.0 440.5" fill="none" stroke="#00fa00" stroke-width="6.2" stroke-linejoin="round" stroke-linecap="round"/>
<path d="M373.7 448.0L369.3 447.2L360.3 445.7L354.3 442.7L343.9 442.7L337.2 443.9L342.4 445.7L348.4 449.5L358.8 450.2L366.3 449.5L372.3 448.0" fill="none" stroke="#00fa00" stroke-width="6.2" stroke-linejoin="round" stroke-linecap="round"/>
<path d="M337.2 443.9L343.1 444.2" fill="none" stroke="#00fa00" stroke-width="7.4" stroke-linejoin="round" stroke-linecap="round"/>
<path d="M415.6 444.2L423.0 443.9" fill="none" stroke="#00fa00" stroke-width="7.9" stroke-linejoin="round" stroke-linecap="round"/>
<path d="M423.0 443.9L427.5 439.7L430.5 438.3L452.0 438.6" fill="none" stroke="#00fa00" stroke-width="6.2" stroke-linejoin="round" stroke-linecap="round"/>
<path d="M423.0 443.9L430.5 445.0L436.5 447.2L442.4 449.5L452.0 450.9" fill="none" stroke="#00fa00" stroke-width="6.2" stroke-linejoin="round" stroke-linecap="round"/>
<path d="M412.6 456.5L424.5 456.2" fill="none" stroke="#00fa00" stroke-width="8.4" stroke-linejoin="round" stroke-linecap="round"/>
<path d="M317.0 450.2L324.5 453.2L328.9 453.9L333.4 456.9L343.9 456.9L351.3 455.9" fill="none" stroke="#00fa00" stroke-width="6.2" stroke-linejoin="round" stroke-linecap="round"/>
<path d="M317.0 454.7L323.0 456.9L327.5 460.7L331.9 464.4L340.9 465.9L349.9 466.6L354.3 468.9" fill="none" stroke="#00fa00" stroke-width="6.2" stroke-linejoin="round" stroke-linecap="round"/>
<path d="M452.0 392.7L456.5 392.0L463.9 394.9L466.9 394.2L468.4 389.0L472.9 385.2L478.9 383.7L487.8 383.0" fill="none" stroke="#00fa00" stroke-width="6.2" stroke-linejoin="round" stroke-linecap="round"/>
<path d="M452.0 402.4L458.0 402.1" fill="none" stroke="#00fa00" stroke-width="6.2" stroke-linejoin="round" stroke-linecap="round"/>
<path d="M501.3 406.1L508.7 407.6L517.7 408.4L523.7 407.6L525.2 403.2L532.6 400.2L541.6 399.4L547.6 397.9L546.8 393.5L541.6 390.5L538.6 387.5L535.6 383.0" fill="none" stroke="#00fa00" stroke-width="6.2" stroke-linejoin="round" stroke-linecap="round"/>
<path d="M555.0 383.0L559.5 387.5L565.5 391.2L567.0 394.9L564.0 398.7L567.0 399.4L571.5 394.9L575.9 389.0L575.9 384.5L571.5 385.2L570.0 387.5" fill="none" stroke="#00fa00" stroke-width="6.2" stroke-linejoin="round" stroke-linecap="round"/>
<path d="M575.9 389.0L581.9 392.0L587.0 394.2" fill="none" stroke="#00fa00" stroke-width="6.2" stroke-linejoin="round" stroke-linecap="round"/>
<path d="M583.4 383.0L587.0 386.0" fill="none" stroke="#00fa00" stroke-width="6.2" stroke-linejoin="round" stroke-linecap="round"/>
<path d="M453.5 415.1L458.0 413.6L463.9 416.6L469.9 420.3L475.9 423.3L480.4 424.1" fill="none" stroke="#00fa00" stroke-width="6.2" stroke-linejoin="round" stroke-linecap="round"/>
<path d="M453.5 415.1L456.5 420.3L461.0 424.1L458.0 425.6L452.0 425.6" fill="none" stroke="#00fa00" stroke-width="6.2" stroke-linejoin="round" stroke-linecap="round"/>
<path d="M492.3 417.3L487.8 417.0L481.9 415.1L478.9 418.8L480.4 423.3L486.3 423.3" fill="none" stroke="#00fa00" stroke-width="6.9" stroke-linejoin="round" stroke-linecap="round"/>
<path d="M528.9 417.3L532.6 409.9L540.1 418.8L535.6 420.3L529.7 420.3Z" fill="#00fa00" stroke="#00fa00" stroke-width="6.2" stroke-linejoin="round" stroke-linecap="round"/>
<path d="M525.2 425.6L529.7 425.6L530.0 418.8L525.9 421.8Z" fill="#00fa00" stroke="#00fa00" stroke-width="6.2" stroke-linejoin="round" stroke-linecap="round"/>
<path d="M535.6 424.8L541.6 423.3L544.6 419.6L553.5 418.8L559.5 422.6L562.5 425.6L571.5 425.6L573.7 427.8L570.0 433.8L562.5 440.5L571.5 442.7L581.9 443.5L587.0 443.5" fill="none" stroke="#00fa00" stroke-width="6.2" stroke-linejoin="round" stroke-linecap="round"/>
<path d="M552.1 431.1L558.0 429.3L564.0 431.1L559.5 433.5L555.0 433.0Z" fill="#00fa00" stroke="#00fa00" stroke-width="6.2" stroke-linejoin="round" stroke-linecap="round"/>
<path d="M481.1 431.5L486.3 429.3L493.8 431.5L499.8 435.3L505.8 438.3L512.5 439.7L511.7 442.7L508.7 444.2L501.3 442.0L495.3 444.2L494.6 448.7L489.3 450.2L487.1 445.7L489.3 442.7L484.9 436.8L481.9 433.8Z" fill="#00fa00" stroke="#00fa00" stroke-width="6.2" stroke-linejoin="round" stroke-linecap="round"/>
<path d="M452.0 440.5L458.0 439.7L466.9 442.7L474.4 445.0L481.9 448.0L475.9 450.9L466.9 451.7L458.0 451.7L452.0 452.4" fill="none" stroke="#00fa00" stroke-width="6.2" stroke-linejoin="round" stroke-linecap="round"/>
<path d="M587.0 396.4L591.5 397.9L595.2 402.4L600.4 402.4L604.2 397.9L606.4 394.2L609.4 394.2L610.9 400.9" fill="none" stroke="#00fa00" stroke-width="6.2" stroke-linejoin="round" stroke-linecap="round"/>
<path d="M604.2 400.9L608.7 393.8L611.6 401.7L613.9 402.4" fill="none" stroke="#00fa00" stroke-width="6.2" stroke-linejoin="round" stroke-linecap="round"/>
<path d="M637.0 406.9L640.8 407.6L644.5 410.6L643.7 415.1L642.3 419.6L646.7 421.8L654.2 424.1L662.4 427.1L658.7 429.3L649.7 430.8L643.0 431.5L646.7 433.8L654.2 434.5L657.2 436.0L664.7 436.0L672.1 436.0L676.6 437.5L680.3 440.5L675.1 443.5L669.9 446.5L666.9 448.7L676.6 450.2L685.6 452.4L682.6 458.4L676.6 458.4L667.6 456.2L660.2 452.4L651.2 451.7L640.8 452.4L637.8 450.2L634.8 447.2L625.8 446.5L616.9 447.2L606.4 447.2L596.0 445.0L587.0 443.5" fill="none" stroke="#00fa00" stroke-width="6.2" stroke-linejoin="round" stroke-linecap="round"/>
<path d="M604.9 410.6L609.4 408.4L615.4 409.9L618.4 412.9L617.6 415.1L612.4 414.4L607.2 412.9Z" fill="#00fa00" stroke="#00fa00" stroke-width="6.2" stroke-linejoin="round" stroke-linecap="round"/>
<path d="M627.3 431.5L631.8 430.5L634.8 431.5L634.0 434.5L631.1 435.3L628.1 433.8Z" fill="#00fa00" stroke="#00fa00" stroke-width="6.2" stroke-linejoin="round" stroke-linecap="round"/>
<path d="M609.4 383.0L616.9 384.8L624.3 386.0L625.5 383.0" fill="none" stroke="#00fa00" stroke-width="6.2" stroke-linejoin="round" stroke-linecap="round"/>
<path d="M651.2 383.0L655.7 386.0" fill="none" stroke="#00fa00" stroke-width="6.2" stroke-linejoin="round" stroke-linecap="round"/>
<path d="M671.4 415.1L678.1 412.9L682.6 415.1L688.5 420.3L697.5 422.6L698.3 424.1L691.5 424.8L685.6 423.3L678.1 418.8Z" fill="#00fa00" stroke="#00fa00" stroke-width="6.2" stroke-linejoin="round" stroke-linecap="round"/>
<path d="M691.5 409.9L696.8 412.9L698.3 417.3L697.8 422.1" fill="none" stroke="#00fa00" stroke-width="6.2" stroke-linejoin="round" stroke-linecap="round"/>
<path d="M697.8 419.6L706.5 420.6L715.4 422.6L722.0 423.6" fill="none" stroke="#00fa00" stroke-width="6.2" stroke-linejoin="round" stroke-linecap="round"/>
<path d="M699.0 390.5L705.0 387.5L708.0 390.5L710.9 396.4L710.2 400.2L706.5 400.9L702.0 395.7Z" fill="#00fa00" stroke="#00fa00" stroke-width="6.2" stroke-linejoin="round" stroke-linecap="round"/>
<path d="M703.5 406.1L708.0 403.9L713.9 404.7L716.2 407.6L714.7 411.4L709.5 410.6Z" fill="#00fa00" stroke="#00fa00" stroke-width="6.2" stroke-linejoin="round" stroke-linecap="round"/>
<path d="M709.5 383.0L715.4 386.0L719.9 390.5L722.0 393.5" fill="none" stroke="#00fa00" stroke-width="6.2" stroke-linejoin="round" stroke-linecap="round"/>
<path d="M710.2 400.2L710.9 403.2L708.7 403.9" fill="none" stroke="#00fa00" stroke-width="6.2" stroke-linejoin="round" stroke-linecap="round"/>
<path d="M690.8 448.4L696.0 448.0L700.5 444.2L706.5 440.5L712.4 439.0L722.0 440.5" fill="none" stroke="#00fa00" stroke-width="6.2" stroke-linejoin="round" stroke-linecap="round"/>
<path d="M696.0 448.7L703.5 449.5L710.9 450.9L722.0 454.7" fill="none" stroke="#00fa00" stroke-width="6.2" stroke-linejoin="round" stroke-linecap="round"/>
<path d="M690.8 448.4L696.0 448.1" fill="none" stroke="#00fa00" stroke-width="7.4" stroke-linejoin="round" stroke-linecap="round"/>
<polygon points="393.2,276.2 398.8,276.9 397.3,283.6 392.4,282.1" fill="#00fa00"/>
<polygon points="388.7,293.0 400.6,288.1 403.6,285.9 409.6,288.1 418.5,288.9 424.5,286.6 425.3,293.0" fill="#00fa00"/>
<polygon points="182.0,367.7 190.2,364.7 199.9,365.4 202.9,372.1 206.6,369.2 211.9,367.7 217.1,369.2 220.8,372.1 226.8,370.7 229.8,366.2 235.0,367.7 231.3,372.1 232.8,378.1 237.3,379.6 241.7,375.9 249.2,376.6 253.7,382.6 253.7,383.0 182.0,383.0" fill="#00fa00"/>
<polygon points="252.2,366.9 258.2,367.7 262.6,370.7 271.6,369.2 283.5,370.7 277.6,373.6 271.6,376.6 273.1,383.0 253.7,383.0 254.4,373.6" fill="#00fa00"/>
<polygon points="305.9,383.0 307.4,376.6 308.9,361.7 314.9,358.7 317.0,360.2 317.0,383.0" fill="#00fa00"/>
<polygon points="288.8,379.6 292.5,372.1 294.7,376.6 292.5,380.4" fill="#00fa00"/>
<polygon points="182.0,325.1 186.5,329.6 191.0,331.1 198.4,327.3 207.4,329.6 217.8,329.6 220.1,325.9 226.8,332.6 234.3,334.1 241.7,330.3 247.7,330.3 255.2,325.1 261.1,328.1 271.6,328.4 275.9,325.9 278.9,322.0 283.0,319.9 287.9,320.5 291.9,323.5 296.8,325.4 300.9,322.4 304.9,320.5 306.4,323.9 304.9,328.8 300.9,332.9 296.8,334.8 295.9,343.8 293.4,342.9 291.5,335.9 290.0,339.9 291.5,343.8 287.0,347.4 281.9,347.8 278.5,349.3 277.0,344.8 281.0,341.8 283.0,338.8 281.9,334.8 277.0,332.9 272.0,332.1 268.6,335.6 265.6,336.3 259.7,336.3 255.2,334.8 249.2,340.8 241.7,343.0 232.8,344.5 228.3,348.3 225.3,345.3 219.3,342.3 213.4,343.0 211.9,349.7 208.9,354.2 201.4,358.7 195.4,356.5 201.4,352.7 207.4,351.2 204.4,344.5 195.4,345.3 186.5,349.0 182.0,350.5" fill="#00fa00"/>
<polygon points="271.6,306.4 277.6,305.7 279.1,313.2 272.3,313.9" fill="#00fa00"/>
<polygon points="286.5,307.2 300.7,307.2 300.0,311.7 287.3,311.7" fill="#00fa00"/>
<polygon points="357.3,315.4 361.8,313.2 367.8,313.9 369.3,319.9 364.8,325.1 359.6,325.9 358.1,321.4" fill="#00fa00"/>
<polygon points="328.9,331.1 337.9,325.9 342.4,330.3 339.4,336.3 334.9,335.6" fill="#00fa00"/>
<polygon points="321.5,346.8 326.0,343.8 331.9,348.3 337.9,345.3 342.4,349.7 349.9,351.2 346.9,355.7 340.9,355.0 334.9,357.2 326.0,354.2 322.2,352.0" fill="#00fa00"/>
<polygon points="366.3,350.5 373.7,351.2 378.2,355.7 373.7,358.7 368.5,358.0" fill="#00fa00"/>
<polygon points="317.0,369.2 326.0,366.2 336.4,364.7 346.9,369.2 361.8,367.7 376.7,364.7 382.7,366.2 379.7,370.7 367.8,376.6 358.8,383.0 317.0,383.0" fill="#00fa00"/>
<polygon points="382.7,383.0 388.7,376.6 400.6,373.6 406.6,367.7 408.1,364.7 412.6,367.7 421.5,372.9 427.5,376.6 426.0,383.0" fill="#00fa00"/>
<polygon points="374.9,310.9 381.8,309.0 391.8,310.0 398.8,309.0 398.8,319.9 393.8,322.9 386.9,322.0 380.9,317.9 375.8,316.0" fill="#00fa00"/>
<polygon points="523.7,309.4 535.6,310.9 541.6,306.4 547.6,302.0 550.6,307.9 541.6,313.9 532.6,315.4 525.2,318.4" fill="#00fa00"/>
<polygon points="556.5,299.0 559.5,293.0 587.0,293.0 587.0,306.4 571.5,306.4 565.5,302.0" fill="#00fa00"/>
<polygon points="547.6,322.9 556.5,319.9 565.5,322.9 571.5,331.8 587.0,330.3 587.0,343.8 578.9,343.8 568.5,346.8 562.5,343.8 549.1,344.5 535.6,345.3 526.7,343.8 523.7,337.8 532.6,334.8 538.6,330.3 532.6,325.9 526.7,322.9 526.7,319.1 535.6,318.4 541.6,322.1" fill="#00fa00"/>
<polygon points="495.3,343.8 501.3,337.8 507.3,330.3 520.7,328.8 523.7,331.8 522.2,336.3 516.2,340.8 511.7,345.3 514.7,349.0 508.7,349.7 499.8,347.5" fill="#00fa00"/>
<polygon points="502.8,352.7 514.7,352.7 526.7,355.7 532.6,360.2 529.7,367.7 520.7,370.7 514.7,366.2 508.7,363.2 502.8,358.7" fill="#00fa00"/>
<polygon points="553.5,383.0 553.5,373.6 556.5,369.2 568.5,366.2 578.9,361.7 584.9,363.2 587.0,370.7 587.0,383.0" fill="#00fa00"/>
<polygon points="461.0,367.7 466.9,366.2 481.9,366.2 487.8,361.7 495.3,358.7 502.8,364.7 511.7,367.7 517.7,373.6 526.7,378.1 535.6,383.0 466.9,383.0" fill="#00fa00"/>
<polygon points="587.0,293.0 631.8,293.0 630.3,304.9 622.8,307.2 616.9,303.5 601.9,302.0 596.0,306.4 587.0,307.9" fill="#00fa00"/>
<polygon points="643.7,327.3 649.7,321.4 661.7,319.9 676.6,324.4 685.6,322.1 694.5,322.9 702.0,327.3 706.5,333.3 713.9,330.3 715.4,336.3 706.5,339.3 697.5,340.8 688.5,339.3 691.5,343.8 697.5,349.7 700.5,358.7 706.5,367.7 703.5,372.1 696.0,373.6 691.5,366.2 682.6,366.2 670.6,366.9 664.7,360.2 667.6,352.7 667.6,343.8 661.7,339.3 655.7,343.8 652.7,346.8 636.3,346.0 634.8,336.3 642.3,334.8 646.7,339.3 648.2,333.3" fill="#00fa00"/>
<polygon points="587.0,333.3 596.0,331.1 604.9,332.6 610.1,337.8 606.4,344.5 597.5,346.8 587.0,344.5" fill="#00fa00"/>
<polygon points="612.4,339.3 619.9,336.3 627.3,337.8 627.3,343.8 616.9,346.0 613.1,343.8" fill="#00fa00"/>
<polygon points="628.8,355.7 636.3,352.7 640.8,358.7 649.7,360.2 648.2,364.7 643.7,367.7 645.2,376.6 652.7,383.0 622.8,383.0 624.3,376.6 633.3,375.1 636.3,367.7 634.8,361.7" fill="#00fa00"/>
<polygon points="691.5,307.9 700.5,299.0 710.9,293.0 722.0,293.0 722.0,307.9 716.9,312.4 706.5,309.4 697.5,312.4" fill="#00fa00"/>
<polygon points="709.5,358.7 713.9,349.7 712.4,343.8 718.4,342.3 722.0,343.8 722.0,383.0 706.5,383.0 706.5,376.6 715.4,376.6 718.4,364.7" fill="#00fa00"/>
<polygon points="587.0,376.6 596.0,373.6 604.9,374.4 610.9,383.0 587.0,383.0" fill="#00fa00"/>
<polygon points="591.5,358.7 600.4,355.0 609.4,358.7 615.4,366.2 603.4,370.7 594.5,367.7" fill="#00fa00"/>
<polygon points="630.3,293.0 658.7,293.0 657.2,297.5 649.7,302.0 643.7,301.2 637.8,307.9 631.8,306.4" fill="#00fa00"/>
<polygon points="670.6,293.0 679.6,293.0 676.6,299.0 672.1,297.5" fill="#00fa00"/>
<polygon points="627.3,313.9 634.8,312.4 637.0,318.4 630.3,320.6" fill="#00fa00"/>
<polygon points="609.4,364.7 621.3,363.2 625.8,370.7 622.8,376.6 613.9,373.6" fill="#00fa00"/>
<polygon points="646.7,359.5 664.7,359.5 666.9,366.2 657.2,367.7 649.7,364.7" fill="#00fa00"/>
<polygon points="291.8,336.6 294.0,343.5 295.5,343.5 296.2,335.6" fill="#00ffaa"/>
<polygon points="343.9,373.6 361.8,372.1 367.8,376.6 358.8,382.6 346.9,381.1" fill="#00ffaa"/>
<polygon points="379.7,370.7 397.6,367.7 400.6,373.6 388.7,376.6" fill="#00ffaa"/>
<polygon points="193.9,322.1 199.9,318.4 216.3,316.9 217.1,321.4 204.4,322.9 198.4,324.4" fill="none" stroke="#00ffaa" stroke-width="3.5" stroke-linejoin="round"/>
<polygon points="235.0,310.2 238.0,310.2 238.0,315.4 235.5,315.4" fill="none" stroke="#00ffaa" stroke-width="3.5" stroke-linejoin="round"/>
<polygon points="239.5,322.1 244.7,319.9 246.2,325.1 243.2,327.3 240.2,325.9" fill="none" stroke="#00ffaa" stroke-width="3.5" stroke-linejoin="round"/>
<polygon points="222.3,322.9 228.3,322.1 227.5,325.1 223.1,325.1" fill="none" stroke="#00ffaa" stroke-width="3.5" stroke-linejoin="round"/>
<polygon points="250.7,342.3 259.7,340.8 268.6,343.0 265.6,346.8 253.7,347.5" fill="none" stroke="#00ffaa" stroke-width="3.5" stroke-linejoin="round"/>
<polygon points="217.8,346.8 223.8,346.0 225.3,349.7 220.1,351.2" fill="none" stroke="#00ffaa" stroke-width="3.5" stroke-linejoin="round"/>
<polygon points="188.7,352.0 198.4,348.3 204.4,347.5 202.9,350.5 191.0,355.0" fill="none" stroke="#00ffaa" stroke-width="3.5" stroke-linejoin="round"/>
<polygon points="237.3,348.3 244.7,349.0 246.2,353.5 240.2,352.0" fill="none" stroke="#00ffaa" stroke-width="3.5" stroke-linejoin="round"/>
<polygon points="272.3,334.8 276.8,335.6 276.8,343.8 273.1,342.3" fill="none" stroke="#00ffaa" stroke-width="3.5" stroke-linejoin="round"/>
<polygon points="313.4,313.2 317.0,312.4 317.0,319.9 314.2,319.1" fill="none" stroke="#00ffaa" stroke-width="3.5" stroke-linejoin="round"/>
<polygon points="310.4,345.3 317.0,343.0 317.0,349.7 311.9,349.7" fill="none" stroke="#00ffaa" stroke-width="3.5" stroke-linejoin="round"/>
<polygon points="182.0,336.3 184.2,336.3 184.2,340.8 182.0,340.8" fill="none" stroke="#00ffaa" stroke-width="3.5" stroke-linejoin="round"/>
<polygon points="340.9,337.8 346.9,328.8 352.8,322.9 369.3,319.9 379.7,322.1 394.7,325.1 406.6,323.6 421.5,322.1 424.5,324.4 425.3,348.3 420.0,351.2 412.6,352.7 400.6,355.7 394.7,352.7 384.2,348.3 369.3,349.0 361.8,345.3 354.3,345.3 346.9,345.3" fill="none" stroke="#00ffaa" stroke-width="3.5" stroke-linejoin="round"/>
<polygon points="317.0,309.4 323.0,309.4 323.7,315.4 320.0,318.4 317.0,317.6" fill="none" stroke="#00ffaa" stroke-width="3.5" stroke-linejoin="round"/>
<polygon points="324.5,339.3 334.9,337.8 335.7,342.3 328.9,344.5" fill="none" stroke="#00ffaa" stroke-width="3.5" stroke-linejoin="round"/>
<polygon points="481.1,320.6 489.3,319.1 496.8,315.4 504.3,316.1 502.8,320.6 495.3,322.9 499.8,327.3 493.8,330.3 484.9,329.6" fill="none" stroke="#00ffaa" stroke-width="3.5" stroke-linejoin="round"/>
<polygon points="477.4,349.7 483.4,345.3 489.3,348.3 493.8,352.7 484.9,354.2 478.9,352.7" fill="none" stroke="#00ffaa" stroke-width="3.5" stroke-linejoin="round"/>
<polygon points="519.2,346.8 525.2,346.0 525.9,349.7 519.9,349.7" fill="none" stroke="#00ffaa" stroke-width="3.5" stroke-linejoin="round"/>
<polygon points="534.1,348.3 540.1,346.8 543.1,351.2 538.6,355.0 534.1,352.7" fill="none" stroke="#00ffaa" stroke-width="3.5" stroke-linejoin="round"/>
<polygon points="567.0,352.0 574.5,352.7 575.9,356.5 570.0,355.7" fill="none" stroke="#00ffaa" stroke-width="3.5" stroke-linejoin="round"/>
<polygon points="575.9,327.3 587.0,325.9 587.0,328.8 577.4,329.6" fill="none" stroke="#00ffaa" stroke-width="3.5" stroke-linejoin="round"/>
<polygon points="577.4,343.8 580.4,344.5 578.9,346.8" fill="none" stroke="#00ffaa" stroke-width="3.5" stroke-linejoin="round"/>
<polygon points="594.5,314.7 601.9,311.7 609.4,312.4 610.9,316.9 603.4,319.1 597.5,317.6" fill="none" stroke="#00ffaa" stroke-width="3.5" stroke-linejoin="round"/>
<polygon points="587.0,321.4 591.5,322.1 594.5,327.3 590.0,330.3 587.0,328.8" fill="none" stroke="#00ffaa" stroke-width="3.5" stroke-linejoin="round"/>
<polygon points="616.9,325.9 621.3,320.6 625.8,330.3 621.3,333.3 615.4,330.3" fill="none" stroke="#00ffaa" stroke-width="3.5" stroke-linejoin="round"/>
<polygon points="631.8,327.3 637.8,325.9 640.0,330.3 634.8,332.6" fill="none" stroke="#00ffaa" stroke-width="3.5" stroke-linejoin="round"/>
<polygon points="604.2,348.3 610.9,346.0 616.9,349.7 619.1,352.7 609.4,355.0 604.9,352.7" fill="none" stroke="#00ffaa" stroke-width="3.5" stroke-linejoin="round"/>
<polygon points="654.9,351.2 660.2,349.7 660.9,353.5 655.7,354.2" fill="none" stroke="#00ffaa" stroke-width="3.5" stroke-linejoin="round"/>
<polygon points="660.2,343.8 664.7,343.0 665.4,346.0 660.9,346.0" fill="none" stroke="#00ffaa" stroke-width="3.5" stroke-linejoin="round"/>
<polygon points="702.0,345.3 709.5,343.8 709.5,351.2 703.5,352.0" fill="none" stroke="#00ffaa" stroke-width="3.5" stroke-linejoin="round"/>
<polygon points="660.9,372.1 664.7,370.7 665.4,376.6 661.7,377.4" fill="none" stroke="#00ffaa" stroke-width="3.5" stroke-linejoin="round"/>
<polygon points="193.9,322.1 199.9,318.4 216.3,316.9 217.1,321.4 204.4,322.9 198.4,324.4" fill="#00aaff"/>
<polygon points="235.0,310.2 238.0,310.2 238.0,315.4 235.5,315.4" fill="#00aaff"/>
<polygon points="239.5,322.1 244.7,319.9 246.2,325.1 243.2,327.3 240.2,325.9" fill="#00aaff"/>
<polygon points="222.3,322.9 228.3,322.1 227.5,325.1 223.1,325.1" fill="#00aaff"/>
<polygon points="250.7,342.3 259.7,340.8 268.6,343.0 265.6,346.8 253.7,347.5" fill="#00aaff"/>
<polygon points="217.8,346.8 223.8,346.0 225.3,349.7 220.1,351.2" fill="#00aaff"/>
<polygon points="188.7,352.0 198.4,348.3 204.4,347.5 202.9,350.5 191.0,355.0" fill="#00aaff"/>
<polygon points="237.3,348.3 244.7,349.0 246.2,353.5 240.2,352.0" fill="#00aaff"/>
<polygon points="272.3,334.8 276.8,335.6 276.8,343.8 273.1,342.3" fill="#00aaff"/>
<polygon points="313.4,313.2 317.0,312.4 317.0,319.9 314.2,319.1" fill="#00aaff"/>
<polygon points="310.4,345.3 317.0,343.0 317.0,349.7 311.9,349.7" fill="#00aaff"/>
<polygon points="182.0,336.3 184.2,336.3 184.2,340.8 182.0,340.8" fill="#00aaff"/>
<polygon points="340.9,337.8 346.9,328.8 352.8,322.9 369.3,319.9 379.7,322.1 394.7,325.1 406.6,323.6 421.5,322.1 424.5,324.4 425.3,348.3 420.0,351.2 412.6,352.7 400.6,355.7 394.7,352.7 384.2,348.3 369.3,349.0 361.8,345.3 354.3,345.3 346.9,345.3" fill="#00aaff"/>
<polygon points="317.0,309.4 323.0,309.4 323.7,315.4 320.0,318.4 317.0,317.6" fill="#00aaff"/>
<polygon points="324.5,339.3 334.9,337.8 335.7,342.3 328.9,344.5" fill="#00aaff"/>
<polygon points="481.1,320.6 489.3,319.1 496.8,315.4 504.3,316.1 502.8,320.6 495.3,322.9 499.8,327.3 493.8,330.3 484.9,329.6" fill="#00aaff"/>
<polygon points="477.4,349.7 483.4,345.3 489.3,348.3 493.8,352.7 484.9,354.2 478.9,352.7" fill="#00aaff"/>
<polygon points="519.2,346.8 525.2,346.0 525.9,349.7 519.9,349.7" fill="#00aaff"/>
<polygon points="534.1,348.3 540.1,346.8 543.1,351.2 538.6,355.0 534.1,352.7" fill="#00aaff"/>
<polygon points="567.0,352.0 574.5,352.7 575.9,356.5 570.0,355.7" fill="#00aaff"/>
<polygon points="575.9,327.3 587.0,325.9 587.0,328.8 577.4,329.6" fill="#00aaff"/>
<polygon points="577.4,343.8 580.4,344.5 578.9,346.8" fill="#00aaff"/>
<polygon points="594.5,314.7 601.9,311.7 609.4,312.4 610.9,316.9 603.4,319.1 597.5,317.6" fill="#00aaff"/>
<polygon points="587.0,321.4 591.5,322.1 594.5,327.3 590.0,330.3 587.0,328.8" fill="#00aaff"/>
<polygon points="616.9,325.9 621.3,320.6 625.8,330.3 621.3,333.3 615.4,330.3" fill="#00aaff"/>
<polygon points="631.8,327.3 637.8,325.9 640.0,330.3 634.8,332.6" fill="#00aaff"/>
<polygon points="604.2,348.3 610.9,346.0 616.9,349.7 619.1,352.7 609.4,355.0 604.9,352.7" fill="#00aaff"/>
<polygon points="654.9,351.2 660.2,349.7 660.9,353.5 655.7,354.2" fill="#00aaff"/>
<polygon points="660.2,343.8 664.7,343.0 665.4,346.0 660.9,346.0" fill="#00aaff"/>
<polygon points="702.0,345.3 709.5,343.8 709.5,351.2 703.5,352.0" fill="#00aaff"/>
<polygon points="660.9,372.1 664.7,370.7 665.4,376.6 661.7,377.4" fill="#00aaff"/>
<polygon points="593.0,312.4 609.4,310.9 611.6,317.6 616.9,325.1 622.1,319.9 626.1,330.3 621.3,333.6 615.4,331.1 609.4,322.9 596.0,318.4" fill="#00aaff"/>
<polygon points="273.4,338.5 275.3,338.5 275.3,340.5 273.4,340.5" fill="none" stroke="#00aaff" stroke-width="4.5" stroke-linejoin="round"/>
<polygon points="346.1,331.8 351.3,328.8 355.8,333.3 360.3,336.3 363.3,337.8 357.3,344.5 352.8,345.3 349.9,340.8 345.4,339.3" fill="none" stroke="#00aaff" stroke-width="4.5" stroke-linejoin="round"/>
<polygon points="368.5,328.8 373.7,327.3 379.7,331.8 385.7,334.1 391.7,336.3 394.7,342.3 394.7,347.5 382.7,347.5 373.7,345.3 369.3,337.8" fill="none" stroke="#00aaff" stroke-width="4.5" stroke-linejoin="round"/>
<polygon points="393.2,330.3 400.6,326.6 412.6,325.9 421.5,325.1 423.0,330.3 420.0,334.8 412.6,333.3 421.5,342.3 422.3,347.5 415.6,351.2 408.1,352.0 402.1,345.3 397.6,337.8" fill="none" stroke="#00aaff" stroke-width="4.5" stroke-linejoin="round"/>
<polygon points="601.2,327.0 604.2,327.0 604.2,328.2 601.2,328.2" fill="none" stroke="#00aaff" stroke-width="4.5" stroke-linejoin="round"/>
<polygon points="716.2,338.5 722.0,338.5 722.0,340.5 716.2,340.5" fill="none" stroke="#00aaff" stroke-width="4.5" stroke-linejoin="round"/>
<polygon points="273.4,338.5 275.3,338.5 275.3,340.5 273.4,340.5" fill="#0000ff"/>
<polygon points="346.1,331.8 351.3,328.8 355.8,333.3 360.3,336.3 363.3,337.8 357.3,344.5 352.8,345.3 349.9,340.8 345.4,339.3" fill="#0000ff"/>
<polygon points="368.5,328.8 373.7,327.3 379.7,331.8 385.7,334.1 391.7,336.3 394.7,342.3 394.7,347.5 382.7,347.5 373.7,345.3 369.3,337.8" fill="#0000ff"/>
<polygon points="393.2,330.3 400.6,326.6 412.6,325.9 421.5,325.1 423.0,330.3 420.0,334.8 412.6,333.3 421.5,342.3 422.3,347.5 415.6,351.2 408.1,352.0 402.1,345.3 397.6,337.8" fill="#0000ff"/>
<polygon points="601.2,327.0 604.2,327.0 604.2,328.2 601.2,328.2" fill="#0000ff"/>
<polygon points="716.2,338.5 722.0,338.5 722.0,340.5 716.2,340.5" fill="#0000ff"/>
<polygon points="189.5,284.4 198.4,276.2 206.6,273.2 209.6,277.7 204.4,286.6 198.4,293.0 193.9,293.0 189.5,288.1" fill="none" stroke="#00fa00" stroke-width="5.5" stroke-linejoin="round"/>
<polygon points="221.6,282.1 229.8,276.2 238.0,276.2 233.5,282.1 225.3,285.1" fill="none" stroke="#00fa00" stroke-width="5.5" stroke-linejoin="round"/>
<polygon points="229.8,293.0 232.8,288.9 241.7,286.6 248.5,285.9 248.5,293.0" fill="none" stroke="#00fa00" stroke-width="5.5" stroke-linejoin="round"/>
<polygon points="268.6,293.0 270.1,288.9 277.6,286.6 288.8,286.6 290.3,291.1 288.8,293.0" fill="none" stroke="#00fa00" stroke-width="5.5" stroke-linejoin="round"/>
<polygon points="305.9,293.0 307.4,288.9 313.4,288.1 314.9,293.0" fill="none" stroke="#00fa00" stroke-width="5.5" stroke-linejoin="round"/>
<polygon points="324.5,289.6 336.4,288.9 337.9,293.0 323.7,293.0" fill="none" stroke="#00fa00" stroke-width="5.5" stroke-linejoin="round"/>
<polygon points="463.9,286.6 474.4,279.2 484.9,274.7 493.8,274.7 496.8,277.7 504.3,278.4 514.7,277.7 529.7,280.7 547.6,279.9 551.3,283.6 544.6,293.0 465.4,293.0 463.2,289.6" fill="none" stroke="#00fa00" stroke-width="5.5" stroke-linejoin="round"/>
<polygon points="575.2,288.9 578.2,286.6 581.2,288.9 578.9,291.1 575.9,291.1" fill="none" stroke="#00fa00" stroke-width="5.5" stroke-linejoin="round"/>
<polygon points="636.3,293.0 637.8,288.9 649.7,286.6 654.2,282.1 660.2,279.2 664.7,273.2 670.6,273.2 675.9,277.7 670.6,283.6 664.7,288.1 657.2,293.0" fill="none" stroke="#00fa00" stroke-width="5.5" stroke-linejoin="round"/>
<polygon points="591.5,293.0 596.0,289.6 609.4,288.1 616.9,285.1 619.9,286.6 615.4,293.0" fill="none" stroke="#00fa00" stroke-width="5.5" stroke-linejoin="round"/>
<polygon points="674.4,289.6 679.6,288.9 680.3,293.0 674.4,293.0" fill="none" stroke="#00fa00" stroke-width="5.5" stroke-linejoin="round"/>
<polygon points="186.5,297.5 193.9,293.0 201.4,293.0 198.4,297.5 191.0,301.2" fill="none" stroke="#00fa00" stroke-width="5.5" stroke-linejoin="round"/>
<polygon points="210.4,300.5 217.8,296.0 223.1,296.7 219.3,301.2 211.9,303.5" fill="none" stroke="#00fa00" stroke-width="5.5" stroke-linejoin="round"/>
<polygon points="227.5,293.0 241.7,293.0 240.2,296.0 232.8,298.2" fill="none" stroke="#00fa00" stroke-width="5.5" stroke-linejoin="round"/>
<polygon points="244.7,304.2 247.7,299.0 256.7,294.5 261.1,297.5 262.6,303.5 259.7,309.4 252.2,308.7 246.2,307.2" fill="none" stroke="#00fa00" stroke-width="5.5" stroke-linejoin="round"/>
<polygon points="268.6,299.0 274.6,293.0 286.5,293.0 285.0,296.7 277.6,299.7" fill="none" stroke="#00fa00" stroke-width="5.5" stroke-linejoin="round"/>
<polygon points="305.9,293.0 317.0,293.0 317.0,297.5 310.4,300.5 306.7,297.5" fill="none" stroke="#00fa00" stroke-width="5.5" stroke-linejoin="round"/>
<polygon points="185.0,334.8 189.5,332.6 198.4,329.6 207.4,330.3 216.3,331.1 211.9,336.3 205.9,337.8 204.4,342.3 196.9,344.5 188.0,346.8 182.0,348.3 182.0,343.8 185.7,340.8" fill="none" stroke="#00fa00" stroke-width="5.5" stroke-linejoin="round"/>
<polygon points="216.3,339.3 222.3,335.6 231.3,334.8 241.7,331.8 247.7,332.6 249.2,337.8 244.7,340.8 232.8,342.3 220.8,342.3" fill="none" stroke="#00fa00" stroke-width="5.5" stroke-linejoin="round"/>
<polygon points="208.9,345.3 212.6,344.5 211.9,350.5 208.9,351.2" fill="none" stroke="#00fa00" stroke-width="5.5" stroke-linejoin="round"/>
<polygon points="197.7,357.2 204.4,355.0 206.6,357.2 201.4,359.5" fill="none" stroke="#00fa00" stroke-width="5.5" stroke-linejoin="round"/>
<polygon points="276.5,328.8 278.9,325.0 283.0,322.4 287.9,322.9 291.9,325.0 296.8,326.9 301.9,323.5 305.4,321.4 305.8,325.0 302.8,329.9 298.9,333.9 291.9,333.9 288.9,334.4 289.4,337.8 287.9,339.9 289.4,343.8 287.0,345.9 281.0,346.3 278.9,344.8 281.9,340.8 284.9,337.8 284.0,334.4 280.0,332.9 277.0,330.9" fill="none" stroke="#00fa00" stroke-width="5.5" stroke-linejoin="round"/>
<polygon points="239.5,357.2 243.2,356.5 247.7,360.9 252.2,360.9 247.7,363.2 241.7,362.4" fill="none" stroke="#00fa00" stroke-width="5.5" stroke-linejoin="round"/>
<polygon points="259.7,366.2 265.6,360.2 271.6,358.7 277.6,363.2 280.6,369.2 271.6,370.7 262.6,369.9" fill="none" stroke="#00fa00" stroke-width="5.5" stroke-linejoin="round"/>
<polygon points="205.9,370.7 211.9,368.4 217.1,369.9 216.3,374.4 208.9,374.4" fill="none" stroke="#00fa00" stroke-width="5.5" stroke-linejoin="round"/>
<polygon points="192.5,376.6 198.4,377.4 202.9,383.0 192.5,383.0" fill="none" stroke="#00fa00" stroke-width="5.5" stroke-linejoin="round"/>
<polygon points="307.4,336.3 310.4,334.8 310.4,337.8 308.2,338.5" fill="none" stroke="#00fa00" stroke-width="5.5" stroke-linejoin="round"/>
<polygon points="428.3,316.9 433.5,312.4 452.0,311.7 452.0,363.2 443.9,357.2 435.0,355.0 427.5,350.5 426.0,337.8 428.3,327.3" fill="none" stroke="#00fa00" stroke-width="5.5" stroke-linejoin="round"/>
<polygon points="408.1,364.7 412.6,360.2 421.5,352.7 427.5,350.5 435.0,355.0 443.9,357.2 452.0,358.7 452.0,364.7 445.4,363.2 436.5,364.7 427.5,366.2 421.5,367.7 412.6,367.7" fill="none" stroke="#00fa00" stroke-width="5.5" stroke-linejoin="round"/>
<polygon points="421.5,366.9 430.5,366.2 440.9,370.7 441.7,377.4 435.0,376.6 427.5,372.1" fill="none" stroke="#00fa00" stroke-width="5.5" stroke-linejoin="round"/>
<polygon points="321.5,296.0 326.0,293.0 334.9,293.0 333.4,299.0 330.4,304.2 324.5,301.2" fill="none" stroke="#00fa00" stroke-width="5.5" stroke-linejoin="round"/>
<polygon points="340.9,299.0 344.6,294.5 352.8,294.5 357.3,298.2 352.8,300.5 346.9,303.5 341.6,302.7" fill="none" stroke="#00fa00" stroke-width="5.5" stroke-linejoin="round"/>
<polygon points="366.3,301.2 372.3,297.5 376.7,299.7 376.0,303.5 369.3,304.9" fill="none" stroke="#00fa00" stroke-width="5.5" stroke-linejoin="round"/>
<polygon points="393.9,296.7 397.6,293.0 402.1,294.5 400.6,300.5 396.1,300.5" fill="none" stroke="#00fa00" stroke-width="5.5" stroke-linejoin="round"/>
<polygon points="398.4,312.4 403.6,310.2 412.6,309.4 415.6,315.4 412.6,319.9 406.6,319.9 399.1,316.9" fill="none" stroke="#00fa00" stroke-width="5.5" stroke-linejoin="round"/>
<polygon points="331.9,331.1 337.9,327.3 341.6,330.3 339.4,334.8 334.9,334.1" fill="none" stroke="#00fa00" stroke-width="5.5" stroke-linejoin="round"/>
<polygon points="359.6,321.4 363.3,319.1 367.0,321.4 364.8,325.1 360.3,325.1" fill="none" stroke="#00fa00" stroke-width="5.5" stroke-linejoin="round"/>
<polygon points="323.0,347.5 327.5,346.8 331.9,350.5 328.9,354.2 323.7,352.7" fill="none" stroke="#00fa00" stroke-width="5.5" stroke-linejoin="round"/>
<polygon points="334.9,348.3 339.4,346.8 340.9,351.2 336.4,352.7" fill="none" stroke="#00fa00" stroke-width="5.5" stroke-linejoin="round"/>
<polygon points="369.3,355.0 373.7,354.2 376.0,357.2 370.8,358.7" fill="none" stroke="#00fa00" stroke-width="5.5" stroke-linejoin="round"/>
<polygon points="327.5,370.7 331.9,368.4 336.4,371.4 337.9,378.1 331.9,381.1 328.2,376.6" fill="none" stroke="#00fa00" stroke-width="5.5" stroke-linejoin="round"/>
<polygon points="369.3,369.2 378.2,367.7 376.7,372.1 370.8,373.6" fill="none" stroke="#00fa00" stroke-width="5.5" stroke-linejoin="round"/>
<polygon points="409.6,363.9 414.1,362.4 417.1,366.2 412.6,368.4" fill="none" stroke="#00fa00" stroke-width="5.5" stroke-linejoin="round"/>
<polygon points="461.0,293.0 480.4,293.0 475.9,300.5 474.4,307.2 468.4,306.4 465.4,302.0 461.0,299.0" fill="none" stroke="#00fa00" stroke-width="5.5" stroke-linejoin="round"/>
<polygon points="466.9,313.2 475.1,312.4 475.1,320.6 469.9,322.9 466.2,318.4" fill="none" stroke="#00fa00" stroke-width="5.5" stroke-linejoin="round"/>
<polygon points="452.0,293.0 458.0,293.0 456.5,297.5 452.0,299.7" fill="none" stroke="#00fa00" stroke-width="5.5" stroke-linejoin="round"/>
<polygon points="452.0,310.2 459.5,310.2 465.4,315.4 461.0,317.6 452.0,313.9" fill="none" stroke="#00fa00" stroke-width="5.5" stroke-linejoin="round"/>
<polygon points="452.0,355.7 461.0,354.2 468.4,349.7 472.9,344.5 474.4,348.3 466.9,352.7 459.5,357.2 458.0,363.2 452.0,364.7" fill="none" stroke="#00fa00" stroke-width="5.5" stroke-linejoin="round"/>
<polygon points="484.1,293.0 487.8,299.7 491.9,303.0 495.9,304.9 498.9,302.0 501.3,300.0 505.8,300.0 506.8,303.0 505.8,306.9 513.8,306.9 517.7,303.9 523.7,303.5 529.7,306.0 534.9,309.1 540.1,305.7 541.6,300.0 544.6,293.0" fill="none" stroke="#00fa00" stroke-width="5.5" stroke-linejoin="round"/>
<polygon points="562.5,293.0 567.0,293.0 567.0,299.0 563.3,299.0" fill="none" stroke="#00fa00" stroke-width="5.5" stroke-linejoin="round"/>
<polygon points="583.4,293.0 587.0,293.0 587.0,303.5 581.9,302.0" fill="none" stroke="#00fa00" stroke-width="5.5" stroke-linejoin="round"/>
<polygon points="496.8,343.8 502.8,337.8 508.7,331.8 520.7,331.1 522.2,335.6 516.2,339.3 511.7,344.5 514.0,348.3 504.3,347.5" fill="none" stroke="#00fa00" stroke-width="5.5" stroke-linejoin="round"/>
<polygon points="531.7,321.4 537.7,322.1 541.6,324.8 547.6,325.1 556.5,322.9 563.3,324.4 564.3,330.3 561.8,336.3 564.0,341.5 549.1,342.0 541.6,342.7 535.6,342.7 528.2,341.8 527.1,338.8 533.7,336.0 539.4,331.8 535.6,327.8 532.0,323.9" fill="none" stroke="#00fa00" stroke-width="5.5" stroke-linejoin="round"/>
<polygon points="565.5,342.3 570.0,336.3 575.9,334.8 587.0,336.3 587.0,340.8 578.9,342.3 571.5,344.5" fill="none" stroke="#00fa00" stroke-width="5.5" stroke-linejoin="round"/>
<polygon points="481.9,383.0 481.9,370.7 487.8,363.2 495.3,360.2 499.8,364.7 502.8,370.7 511.7,373.6 516.2,376.6 520.7,383.0" fill="none" stroke="#00fa00" stroke-width="5.5" stroke-linejoin="round"/>
<polygon points="474.4,373.6 477.4,372.1 477.4,376.6 474.4,376.6" fill="none" stroke="#00fa00" stroke-width="5.5" stroke-linejoin="round"/>
<polygon points="573.7,374.4 580.4,372.1 586.4,374.4 587.0,383.0 575.9,383.0" fill="none" stroke="#00fa00" stroke-width="5.5" stroke-linejoin="round"/>
<polygon points="578.9,366.2 583.4,364.7 584.9,369.2 580.4,370.7" fill="none" stroke="#00fa00" stroke-width="5.5" stroke-linejoin="round"/>
<polygon points="587.0,293.0 616.9,293.0 613.9,299.0 601.9,300.5 596.0,304.9 587.0,306.4" fill="none" stroke="#00fa00" stroke-width="5.5" stroke-linejoin="round"/>
<polygon points="628.1,293.0 664.7,293.0 661.7,294.5 631.8,295.2" fill="none" stroke="#00fa00" stroke-width="5.5" stroke-linejoin="round"/>
<polygon points="651.2,326.6 657.2,322.9 670.6,324.4 679.6,327.3 688.5,323.6 697.5,325.9 702.0,330.3 706.5,334.1 710.9,331.1 714.7,333.3 712.4,337.8 705.0,337.8 697.5,339.3 688.5,337.8 682.6,340.8 690.0,346.8 694.5,352.7 697.5,357.2 694.5,363.2 690.0,363.2 682.6,363.2 670.6,364.7 666.1,360.2 670.6,352.7 672.1,345.3 667.6,342.3 672.1,339.3 667.6,337.8 661.7,336.3 657.2,330.3 652.7,330.3" fill="none" stroke="#00fa00" stroke-width="5.5" stroke-linejoin="round"/>
<polygon points="587.0,335.6 596.0,333.3 604.9,334.8 607.9,337.8 604.9,343.0 596.0,345.3 587.0,343.0" fill="none" stroke="#00fa00" stroke-width="5.5" stroke-linejoin="round"/>
<polygon points="614.6,340.8 619.9,338.5 625.8,339.3 625.8,343.0 616.9,344.5" fill="none" stroke="#00fa00" stroke-width="5.5" stroke-linejoin="round"/>
<polygon points="637.0,337.8 642.3,337.1 645.2,342.3 643.7,345.3 637.8,345.3" fill="none" stroke="#00fa00" stroke-width="5.5" stroke-linejoin="round"/>
<polygon points="696.8,306.4 702.0,299.0 709.5,295.2 712.4,297.5 709.5,304.9 702.0,307.9" fill="none" stroke="#00fa00" stroke-width="5.5" stroke-linejoin="round"/>
<polygon points="715.4,344.5 722.0,343.8 722.0,351.2 716.9,352.7 713.9,350.5" fill="none" stroke="#00fa00" stroke-width="5.5" stroke-linejoin="round"/>
<polygon points="633.3,356.5 637.8,355.7 640.8,361.7 638.5,363.2" fill="none" stroke="#00fa00" stroke-width="5.5" stroke-linejoin="round"/>
<polygon points="631.8,383.0 633.3,378.1 637.8,373.6 642.3,376.6 643.7,383.0" fill="none" stroke="#00fa00" stroke-width="5.5" stroke-linejoin="round"/>
<polygon points="598.9,376.6 604.9,375.9 606.4,383.0 598.9,383.0" fill="none" stroke="#00fa00" stroke-width="5.5" stroke-linejoin="round"/>
<polygon points="688.5,358.7 696.0,358.7 697.5,363.2 691.5,363.2" fill="none" stroke="#00fa00" stroke-width="5.5" stroke-linejoin="round"/>
<polygon points="193.9,383.0 225.3,383.0 226.1,390.5 219.3,392.0 213.4,399.4 207.4,401.7 201.4,394.9 195.4,390.5" fill="none" stroke="#00fa00" stroke-width="5.5" stroke-linejoin="round"/>
<polygon points="231.3,383.0 237.3,383.0 235.8,386.7 232.0,386.0" fill="none" stroke="#00fa00" stroke-width="5.5" stroke-linejoin="round"/>
<polygon points="248.5,384.5 262.6,384.5 263.4,387.5 252.2,388.2" fill="none" stroke="#00fa00" stroke-width="5.5" stroke-linejoin="round"/>
<polygon points="273.1,389.0 279.1,388.2 280.6,392.0 274.6,392.0" fill="none" stroke="#00fa00" stroke-width="5.5" stroke-linejoin="round"/>
<polygon points="182.0,387.5 184.2,386.7 184.2,390.5 182.0,391.2" fill="none" stroke="#00fa00" stroke-width="5.5" stroke-linejoin="round"/>
<polygon points="345.4,385.2 352.8,383.0 369.3,383.0 371.5,389.0 364.8,388.2 355.8,389.7" fill="none" stroke="#00fa00" stroke-width="5.5" stroke-linejoin="round"/>
<polygon points="370.0,419.6 376.7,418.8 388.7,421.1 400.6,423.3 399.1,427.1 388.7,428.5 378.2,425.6 372.3,422.6" fill="none" stroke="#00fa00" stroke-width="5.5" stroke-linejoin="round"/>
<polygon points="406.6,427.1 415.6,426.3 416.3,427.8 406.6,428.1" fill="none" stroke="#00fa00" stroke-width="5.5" stroke-linejoin="round"/>
<polygon points="475.9,397.9 481.9,392.0 487.8,387.5 492.3,383.0 532.6,383.0 535.6,389.0 541.6,391.2 544.6,396.4 535.6,396.4 523.7,394.2 522.2,399.4 517.7,402.4 508.7,401.7 496.8,399.4 486.3,398.7" fill="none" stroke="#00fa00" stroke-width="5.5" stroke-linejoin="round"/>
<polygon points="499.8,426.3 505.8,425.1 516.2,427.8 526.7,432.3 535.6,435.3 542.3,439.7 540.1,442.0 529.7,441.2 520.7,435.3 511.7,432.3 504.3,430.0" fill="none" stroke="#00fa00" stroke-width="5.5" stroke-linejoin="round"/>
<polygon points="587.0,386.0 593.0,385.2 601.9,384.5 631.8,383.0 649.7,383.0 652.7,389.0 664.7,392.0 673.6,396.4 682.6,399.4 679.6,403.9 670.6,404.7 658.7,403.9 646.7,402.4 636.3,400.9 622.8,396.4 609.4,391.2 598.9,392.0 591.5,392.0 587.0,389.7" fill="none" stroke="#00fa00" stroke-width="5.5" stroke-linejoin="round"/>
<polygon points="716.9,384.5 722.0,383.7 722.0,390.5 719.2,389.0" fill="none" stroke="#00fa00" stroke-width="5.5" stroke-linejoin="round"/>
<polygon points="189.5,284.4 198.4,276.2 206.6,273.2 209.6,277.7 204.4,286.6 198.4,293.0 193.9,293.0 189.5,288.1" fill="#ffff00"/>
<polygon points="221.6,282.1 229.8,276.2 238.0,276.2 233.5,282.1 225.3,285.1" fill="#ffff00"/>
<polygon points="229.8,293.0 232.8,288.9 241.7,286.6 248.5,285.9 248.5,293.0" fill="#ffff00"/>
<polygon points="268.6,293.0 270.1,288.9 277.6,286.6 288.8,286.6 290.3,291.1 288.8,293.0" fill="#ffff00"/>
<polygon points="305.9,293.0 307.4,288.9 313.4,288.1 314.9,293.0" fill="#ffff00"/>
<polygon points="324.5,289.6 336.4,288.9 337.9,293.0 323.7,293.0" fill="#ffff00"/>
<polygon points="463.9,286.6 474.4,279.2 484.9,274.7 493.8,274.7 496.8,277.7 504.3,278.4 514.7,277.7 529.7,280.7 547.6,279.9 551.3,283.6 544.6,293.0 465.4,293.0 463.2,289.6" fill="#ffff00"/>
<polygon points="575.2,288.9 578.2,286.6 581.2,288.9 578.9,291.1 575.9,291.1" fill="#ffff00"/>
<polygon points="636.3,293.0 637.8,288.9 649.7,286.6 654.2,282.1 660.2,279.2 664.7,273.2 670.6,273.2 675.9,277.7 670.6,283.6 664.7,288.1 657.2,293.0" fill="#ffff00"/>
<polygon points="591.5,293.0 596.0,289.6 609.4,288.1 616.9,285.1 619.9,286.6 615.4,293.0" fill="#ffff00"/>
<polygon points="674.4,289.6 679.6,288.9 680.3,293.0 674.4,293.0" fill="#ffff00"/>
<polygon points="186.5,297.5 193.9,293.0 201.4,293.0 198.4,297.5 191.0,301.2" fill="#ffff00"/>
<polygon points="210.4,300.5 217.8,296.0 223.1,296.7 219.3,301.2 211.9,303.5" fill="#ffff00"/>
<polygon points="227.5,293.0 241.7,293.0 240.2,296.0 232.8,298.2" fill="#ffff00"/>
<polygon points="244.7,304.2 247.7,299.0 256.7,294.5 261.1,297.5 262.6,303.5 259.7,309.4 252.2,308.7 246.2,307.2" fill="#ffff00"/>
<polygon points="268.6,299.0 274.6,293.0 286.5,293.0 285.0,296.7 277.6,299.7" fill="#ffff00"/>
<polygon points="305.9,293.0 317.0,293.0 317.0,297.5 310.4,300.5 306.7,297.5" fill="#ffff00"/>
<polygon points="185.0,334.8 189.5,332.6 198.4,329.6 207.4,330.3 216.3,331.1 211.9,336.3 205.9,337.8 204.4,342.3 196.9,344.5 188.0,346.8 182.0,348.3 182.0,343.8 185.7,340.8" fill="#ffff00"/>
<polygon points="216.3,339.3 222.3,335.6 231.3,334.8 241.7,331.8 247.7,332.6 249.2,337.8 244.7,340.8 232.8,342.3 220.8,342.3" fill="#ffff00"/>
<polygon points="208.9,345.3 212.6,344.5 211.9,350.5 208.9,351.2" fill="#ffff00"/>
<polygon points="197.7,357.2 204.4,355.0 206.6,357.2 201.4,359.5" fill="#ffff00"/>
<polygon points="276.5,328.8 278.9,325.0 283.0,322.4 287.9,322.9 291.9,325.0 296.8,326.9 301.9,323.5 305.4,321.4 305.8,325.0 302.8,329.9 298.9,333.9 291.9,333.9 288.9,334.4 289.4,337.8 287.9,339.9 289.4,343.8 287.0,345.9 281.0,346.3 278.9,344.8 281.9,340.8 284.9,337.8 284.0,334.4 280.0,332.9 277.0,330.9" fill="#ffff00"/>
<polygon points="239.5,357.2 243.2,356.5 247.7,360.9 252.2,360.9 247.7,363.2 241.7,362.4" fill="#ffff00"/>
<polygon points="259.7,366.2 265.6,360.2 271.6,358.7 277.6,363.2 280.6,369.2 271.6,370.7 262.6,369.9" fill="#ffff00"/>
<polygon points="205.9,370.7 211.9,368.4 217.1,369.9 216.3,374.4 208.9,374.4" fill="#ffff00"/>
<polygon points="192.5,376.6 198.4,377.4 202.9,383.0 192.5,383.0" fill="#ffff00"/>
<polygon points="307.4,336.3 310.4,334.8 310.4,337.8 308.2,338.5" fill="#ffff00"/>
<polygon points="428.3,316.9 433.5,312.4 452.0,311.7 452.0,363.2 443.9,357.2 435.0,355.0 427.5,350.5 426.0,337.8 428.3,327.3" fill="#ffff00"/>
<polygon points="408.1,364.7 412.6,360.2 421.5,352.7 427.5,350.5 435.0,355.0 443.9,357.2 452.0,358.7 452.0,364.7 445.4,363.2 436.5,364.7 427.5,366.2 421.5,367.7 412.6,367.7" fill="#ffff00"/>
<polygon points="421.5,366.9 430.5,366.2 440.9,370.7 441.7,377.4 435.0,376.6 427.5,372.1" fill="#ffff00"/>
<polygon points="321.5,296.0 326.0,293.0 334.9,293.0 333.4,299.0 330.4,304.2 324.5,301.2" fill="#ffff00"/>
<polygon points="340.9,299.0 344.6,294.5 352.8,294.5 357.3,298.2 352.8,300.5 346.9,303.5 341.6,302.7" fill="#ffff00"/>
<polygon points="366.3,301.2 372.3,297.5 376.7,299.7 376.0,303.5 369.3,304.9" fill="#ffff00"/>
<polygon points="393.9,296.7 397.6,293.0 402.1,294.5 400.6,300.5 396.1,300.5" fill="#ffff00"/>
<polygon points="398.4,312.4 403.6,310.2 412.6,309.4 415.6,315.4 412.6,319.9 406.6,319.9 399.1,316.9" fill="#ffff00"/>
<polygon points="331.9,331.1 337.9,327.3 341.6,330.3 339.4,334.8 334.9,334.1" fill="#ffff00"/>
<polygon points="359.6,321.4 363.3,319.1 367.0,321.4 364.8,325.1 360.3,325.1" fill="#ffff00"/>
<polygon points="323.0,347.5 327.5,346.8 331.9,350.5 328.9,354.2 323.7,352.7" fill="#ffff00"/>
<polygon points="334.9,348.3 339.4,346.8 340.9,351.2 336.4,352.7" fill="#ffff00"/>
<polygon points="369.3,355.0 373.7,354.2 376.0,357.2 370.8,358.7" fill="#ffff00"/>
<polygon points="327.5,370.7 331.9,368.4 336.4,371.4 337.9,378.1 331.9,381.1 328.2,376.6" fill="#ffff00"/>
<polygon points="369.3,369.2 378.2,367.7 376.7,372.1 370.8,373.6" fill="#ffff00"/>
<polygon points="409.6,363.9 414.1,362.4 417.1,366.2 412.6,368.4" fill="#ffff00"/>
<polygon points="461.0,293.0 480.4,293.0 475.9,300.5 474.4,307.2 468.4,306.4 465.4,302.0 461.0,299.0" fill="#ffff00"/>
<polygon points="466.9,313.2 475.1,312.4 475.1,320.6 469.9,322.9 466.2,318.4" fill="#ffff00"/>
<polygon points="452.0,293.0 458.0,293.0 456.5,297.5 452.0,299.7" fill="#ffff00"/>
<polygon points="452.0,310.2 459.5,310.2 465.4,315.4 461.0,317.6 452.0,313.9" fill="#ffff00"/>
<polygon points="452.0,355.7 461.0,354.2 468.4,349.7 472.9,344.5 474.4,348.3 466.9,352.7 459.5,357.2 458.0,363.2 452.0,364.7" fill="#ffff00"/>
<polygon points="484.1,293.0 487.8,299.7 491.9,303.0 495.9,304.9 498.9,302.0 501.3,300.0 505.8,300.0 506.8,303.0 505.8,306.9 513.8,306.9 517.7,303.9 523.7,303.5 529.7,306.0 534.9,309.1 540.1,305.7 541.6,300.0 544.6,293.0" fill="#ffff00"/>
<polygon points="562.5,293.0 567.0,293.0 567.0,299.0 563.3,299.0" fill="#ffff00"/>
<polygon points="583.4,293.0 587.0,293.0 587.0,303.5 581.9,302.0" fill="#ffff00"/>
<polygon points="496.8,343.8 502.8,337.8 508.7,331.8 520.7,331.1 522.2,335.6 516.2,339.3 511.7,344.5 514.0,348.3 504.3,347.5" fill="#ffff00"/>
<polygon points="531.7,321.4 537.7,322.1 541.6,324.8 547.6,325.1 556.5,322.9 563.3,324.4 564.3,330.3 561.8,336.3 564.0,341.5 549.1,342.0 541.6,342.7 535.6,342.7 528.2,341.8 527.1,338.8 533.7,336.0 539.4,331.8 535.6,327.8 532.0,323.9" fill="#ffff00"/>
<polygon points="565.5,342.3 570.0,336.3 575.9,334.8 587.0,336.3 587.0,340.8 578.9,342.3 571.5,344.5" fill="#ffff00"/>
<polygon points="481.9,383.0 481.9,370.7 487.8,363.2 495.3,360.2 499.8,364.7 502.8,370.7 511.7,373.6 516.2,376.6 520.7,383.0" fill="#ffff00"/>
<polygon points="474.4,373.6 477.4,372.1 477.4,376.6 474.4,376.6" fill="#ffff00"/>
<polygon points="573.7,374.4 580.4,372.1 586.4,374.4 587.0,383.0 575.9,383.0" fill="#ffff00"/>
<polygon points="578.9,366.2 583.4,364.7 584.9,369.2 580.4,370.7" fill="#ffff00"/>
<polygon points="587.0,293.0 616.9,293.0 613.9,299.0 601.9,300.5 596.0,304.9 587.0,306.4" fill="#ffff00"/>
<polygon points="628.1,293.0 664.7,293.0 661.7,294.5 631.8,295.2" fill="#ffff00"/>
<polygon points="651.2,326.6 657.2,322.9 670.6,324.4 679.6,327.3 688.5,323.6 697.5,325.9 702.0,330.3 706.5,334.1 710.9,331.1 714.7,333.3 712.4,337.8 705.0,337.8 697.5,339.3 688.5,337.8 682.6,340.8 690.0,346.8 694.5,352.7 697.5,357.2 694.5,363.2 690.0,363.2 682.6,363.2 670.6,364.7 666.1,360.2 670.6,352.7 672.1,345.3 667.6,342.3 672.1,339.3 667.6,337.8 661.7,336.3 657.2,330.3 652.7,330.3" fill="#ffff00"/>
<polygon points="587.0,335.6 596.0,333.3 604.9,334.8 607.9,337.8 604.9,343.0 596.0,345.3 587.0,343.0" fill="#ffff00"/>
<polygon points="614.6,340.8 619.9,338.5 625.8,339.3 625.8,343.0 616.9,344.5" fill="#ffff00"/>
<polygon points="637.0,337.8 642.3,337.1 645.2,342.3 643.7,345.3 637.8,345.3" fill="#ffff00"/>
<polygon points="696.8,306.4 702.0,299.0 709.5,295.2 712.4,297.5 709.5,304.9 702.0,307.9" fill="#ffff00"/>
<polygon points="715.4,344.5 722.0,343.8 722.0,351.2 716.9,352.7 713.9,350.5" fill="#ffff00"/>
<polygon points="633.3,356.5 637.8,355.7 640.8,361.7 638.5,363.2" fill="#ffff00"/>
<polygon points="631.8,383.0 633.3,378.1 637.8,373.6 642.3,376.6 643.7,383.0" fill="#ffff00"/>
<polygon points="598.9,376.6 604.9,375.9 606.4,383.0 598.9,383.0" fill="#ffff00"/>
<polygon points="688.5,358.7 696.0,358.7 697.5,363.2 691.5,363.2" fill="#ffff00"/>
<polygon points="193.9,383.0 225.3,383.0 226.1,390.5 219.3,392.0 213.4,399.4 207.4,401.7 201.4,394.9 195.4,390.5" fill="#ffff00"/>
<polygon points="231.3,383.0 237.3,383.0 235.8,386.7 232.0,386.0" fill="#ffff00"/>
<polygon points="248.5,384.5 262.6,384.5 263.4,387.5 252.2,388.2" fill="#ffff00"/>
<polygon points="273.1,389.0 279.1,388.2 280.6,392.0 274.6,392.0" fill="#ffff00"/>
<polygon points="182.0,387.5 184.2,386.7 184.2,390.5 182.0,391.2" fill="#ffff00"/>
<polygon points="345.4,385.2 352.8,383.0 369.3,383.0 371.5,389.0 364.8,388.2 355.8,389.7" fill="#ffff00"/>
<polygon points="370.0,419.6 376.7,418.8 388.7,421.1 400.6,423.3 399.1,427.1 388.7,428.5 378.2,425.6 372.3,422.6" fill="#ffff00"/>
<polygon points="406.6,427.1 415.6,426.3 416.3,427.8 406.6,428.1" fill="#ffff00"/>
<polygon points="475.9,397.9 481.9,392.0 487.8,387.5 492.3,383.0 532.6,383.0 535.6,389.0 541.6,391.2 544.6,396.4 535.6,396.4 523.7,394.2 522.2,399.4 517.7,402.4 508.7,401.7 496.8,399.4 486.3,398.7" fill="#ffff00"/>
<polygon points="499.8,426.3 505.8,425.1 516.2,427.8 526.7,432.3 535.6,435.3 542.3,439.7 540.1,442.0 529.7,441.2 520.7,435.3 511.7,432.3 504.3,430.0" fill="#ffff00"/>
<polygon points="587.0,386.0 593.0,385.2 601.9,384.5 631.8,383.0 649.7,383.0 652.7,389.0 664.7,392.0 673.6,396.4 682.6,399.4 679.6,403.9 670.6,404.7 658.7,403.9 646.7,402.4 636.3,400.9 622.8,396.4 609.4,391.2 598.9,392.0 591.5,392.0 587.0,389.7" fill="#ffff00"/>
<polygon points="716.9,384.5 722.0,383.7 722.0,390.5 719.2,389.0" fill="#ffff00"/>
<polygon points="440.9,367.7 445.4,363.2 452.0,364.7 452.0,376.6 448.4,373.6 443.9,370.7" fill="#00fa00"/>
<polygon points="452.0,302.0 461.0,299.0 466.2,301.2 458.0,309.4 452.0,309.4" fill="#00fa00"/>
<polygon points="453.5,304.9 459.5,302.0 462.5,302.7 456.5,307.9 453.5,307.9" fill="#00ffaa"/>
<polygon points="568.5,294.5 577.4,294.5 578.9,300.5 571.5,302.0" fill="#00ffaa"/>
<polygon points="676.6,347.5 682.6,347.5 680.3,352.0" fill="#00ffaa"/>
<polygon points="501.3,293.0 504.3,286.6 511.7,281.4 517.7,281.4 516.2,286.6 511.7,293.0" fill="none" stroke="#ffff00" stroke-width="4" stroke-linejoin="round"/>
<polygon points="467.7,288.9 472.9,285.9 476.6,286.6 474.4,290.4 468.4,291.1" fill="none" stroke="#ffff00" stroke-width="4" stroke-linejoin="round"/>
<polygon points="488.6,288.1 491.6,286.6 493.8,288.9 490.8,291.1" fill="none" stroke="#ffff00" stroke-width="4" stroke-linejoin="round"/>
<polygon points="187.2,337.8 191.0,334.8 198.4,335.6 199.9,340.8 195.4,344.5 188.7,343.8" fill="none" stroke="#ffff00" stroke-width="4" stroke-linejoin="round"/>
<polygon points="219.3,339.3 223.8,336.3 231.3,336.3 231.3,340.8 222.3,341.5" fill="none" stroke="#ffff00" stroke-width="4" stroke-linejoin="round"/>
<polygon points="237.3,336.3 243.2,334.8 247.0,336.3 246.2,340.0 240.2,340.8" fill="none" stroke="#ffff00" stroke-width="4" stroke-linejoin="round"/>
<polygon points="426.8,322.9 435.0,317.6 452.0,316.1 452.0,355.0 443.9,355.7 434.2,352.0 427.5,346.0 426.0,334.8" fill="none" stroke="#ffff00" stroke-width="4" stroke-linejoin="round"/>
<polygon points="324.5,296.0 327.5,296.0 327.5,299.0 324.5,299.0" fill="none" stroke="#ffff00" stroke-width="4" stroke-linejoin="round"/>
<polygon points="452.0,315.4 461.0,316.9 469.9,322.1 475.1,329.6 475.9,337.1 474.4,344.5 469.9,350.5 461.7,354.5 452.0,355.7" fill="none" stroke="#ffff00" stroke-width="4" stroke-linejoin="round"/>
<polygon points="498.3,293.0 508.7,293.0 507.3,297.5 499.8,297.5" fill="none" stroke="#ffff00" stroke-width="4" stroke-linejoin="round"/>
<polygon points="517.7,293.0 529.7,293.0 528.2,299.0 519.2,299.0" fill="none" stroke="#ffff00" stroke-width="4" stroke-linejoin="round"/>
<polygon points="507.3,336.3 511.7,333.3 519.2,332.6 517.7,336.3 511.7,337.8" fill="none" stroke="#ffff00" stroke-width="4" stroke-linejoin="round"/>
<polygon points="556.5,329.6 561.0,328.8 561.8,332.6 557.3,333.0" fill="none" stroke="#ffff00" stroke-width="4" stroke-linejoin="round"/>
<polygon points="540.1,337.8 544.6,335.6 546.1,337.1 541.6,340.0" fill="none" stroke="#ffff00" stroke-width="4" stroke-linejoin="round"/>
<polygon points="528.2,338.5 531.1,338.5 531.1,340.0 528.2,340.0" fill="none" stroke="#ffff00" stroke-width="4" stroke-linejoin="round"/>
<polygon points="568.5,340.8 573.0,336.3 580.4,336.3 577.4,340.8 571.5,343.0" fill="none" stroke="#ffff00" stroke-width="4" stroke-linejoin="round"/>
<polygon points="485.6,376.6 489.3,370.7 495.3,369.2 501.3,376.6 507.3,383.0 486.3,383.0" fill="none" stroke="#ffff00" stroke-width="4" stroke-linejoin="round"/>
<polygon points="604.9,293.0 611.6,293.0 609.4,296.0 605.7,295.2" fill="none" stroke="#ffff00" stroke-width="4" stroke-linejoin="round"/>
<polygon points="658.7,327.3 663.2,327.3 667.6,333.3 664.7,335.6 660.9,331.8" fill="none" stroke="#ffff00" stroke-width="4" stroke-linejoin="round"/>
<polygon points="678.1,334.8 684.1,329.6 686.3,331.1 681.1,337.8" fill="none" stroke="#ffff00" stroke-width="4" stroke-linejoin="round"/>
<polygon points="596.0,335.6 603.4,334.8 604.2,337.8 600.4,343.8 597.5,343.0" fill="none" stroke="#ffff00" stroke-width="4" stroke-linejoin="round"/>
<polygon points="634.8,381.1 638.5,380.4 639.3,383.0 634.8,383.0" fill="none" stroke="#ffff00" stroke-width="4" stroke-linejoin="round"/>
<polygon points="495.3,383.0 517.7,383.0 514.7,387.5 511.7,392.0 508.7,396.4 504.3,394.9 502.8,389.0 498.3,386.0" fill="none" stroke="#ffff00" stroke-width="4" stroke-linejoin="round"/>
<polygon points="634.8,383.0 642.3,383.0 645.2,389.0 639.3,390.5 636.3,386.7" fill="none" stroke="#ffff00" stroke-width="4" stroke-linejoin="round"/>
<polygon points="501.3,293.0 504.3,286.6 511.7,281.4 517.7,281.4 516.2,286.6 511.7,293.0" fill="#ffaa00"/>
<polygon points="467.7,288.9 472.9,285.9 476.6,286.6 474.4,290.4 468.4,291.1" fill="#ffaa00"/>
<polygon points="488.6,288.1 491.6,286.6 493.8,288.9 490.8,291.1" fill="#ffaa00"/>
<polygon points="187.2,337.8 191.0,334.8 198.4,335.6 199.9,340.8 195.4,344.5 188.7,343.8" fill="#ffaa00"/>
<polygon points="219.3,339.3 223.8,336.3 231.3,336.3 231.3,340.8 222.3,341.5" fill="#ffaa00"/>
<polygon points="237.3,336.3 243.2,334.8 247.0,336.3 246.2,340.0 240.2,340.8" fill="#ffaa00"/>
<polygon points="426.8,322.9 435.0,317.6 452.0,316.1 452.0,355.0 443.9,355.7 434.2,352.0 427.5,346.0 426.0,334.8" fill="#ffaa00"/>
<polygon points="324.5,296.0 327.5,296.0 327.5,299.0 324.5,299.0" fill="#ffaa00"/>
<polygon points="452.0,315.4 461.0,316.9 469.9,322.1 475.1,329.6 475.9,337.1 474.4,344.5 469.9,350.5 461.7,354.5 452.0,355.7" fill="#ffaa00"/>
<polygon points="498.3,293.0 508.7,293.0 507.3,297.5 499.8,297.5" fill="#ffaa00"/>
<polygon points="517.7,293.0 529.7,293.0 528.2,299.0 519.2,299.0" fill="#ffaa00"/>
<polygon points="507.3,336.3 511.7,333.3 519.2,332.6 517.7,336.3 511.7,337.8" fill="#ffaa00"/>
<polygon points="556.5,329.6 561.0,328.8 561.8,332.6 557.3,333.0" fill="#ffaa00"/>
<polygon points="540.1,337.8 544.6,335.6 546.1,337.1 541.6,340.0" fill="#ffaa00"/>
<polygon points="528.2,338.5 531.1,338.5 531.1,340.0 528.2,340.0" fill="#ffaa00"/>
<polygon points="568.5,340.8 573.0,336.3 580.4,336.3 577.4,340.8 571.5,343.0" fill="#ffaa00"/>
<polygon points="485.6,376.6 489.3,370.7 495.3,369.2 501.3,376.6 507.3,383.0 486.3,383.0" fill="#ffaa00"/>
<polygon points="604.9,293.0 611.6,293.0 609.4,296.0 605.7,295.2" fill="#ffaa00"/>
<polygon points="658.7,327.3 663.2,327.3 667.6,333.3 664.7,335.6 660.9,331.8" fill="#ffaa00"/>
<polygon points="678.1,334.8 684.1,329.6 686.3,331.1 681.1,337.8" fill="#ffaa00"/>
<polygon points="596.0,335.6 603.4,334.8 604.2,337.8 600.4,343.8 597.5,343.0" fill="#ffaa00"/>
<polygon points="634.8,381.1 638.5,380.4 639.3,383.0 634.8,383.0" fill="#ffaa00"/>
<polygon points="495.3,383.0 517.7,383.0 514.7,387.5 511.7,392.0 508.7,396.4 504.3,394.9 502.8,389.0 498.3,386.0" fill="#ffaa00"/>
<polygon points="634.8,383.0 642.3,383.0 645.2,389.0 639.3,390.5 636.3,386.7" fill="#ffaa00"/>
<polygon points="190.2,338.5 196.2,338.5 196.2,343.8 190.2,343.8" fill="none" stroke="#ffaa00" stroke-width="3.2" stroke-linejoin="round"/>
<polygon points="222.3,337.8 228.3,337.8 228.3,340.8 222.3,340.8" fill="none" stroke="#ffaa00" stroke-width="3.2" stroke-linejoin="round"/>
<polygon points="241.7,337.1 246.2,337.1 246.2,339.6 241.7,339.6" fill="none" stroke="#ffaa00" stroke-width="3.2" stroke-linejoin="round"/>
<polygon points="429.0,328.1 436.5,321.4 452.0,318.7 452.0,352.7 445.4,352.7 436.5,349.0 429.7,343.0 428.3,334.8" fill="none" stroke="#ffaa00" stroke-width="3.2" stroke-linejoin="round"/>
<polygon points="452.0,319.1 461.0,320.6 468.4,325.1 472.2,332.6 472.2,340.8 469.2,347.5 461.7,351.5 452.0,352.7" fill="none" stroke="#ffaa00" stroke-width="3.2" stroke-linejoin="round"/>
<polygon points="519.9,296.0 525.2,296.0 525.2,298.2 519.9,298.2" fill="none" stroke="#ffaa00" stroke-width="3.2" stroke-linejoin="round"/>
<polygon points="572.2,337.8 575.9,337.8 575.9,340.5 572.2,340.5" fill="none" stroke="#ffaa00" stroke-width="3.2" stroke-linejoin="round"/>
<polygon points="496.8,381.1 501.3,379.6 504.3,383.0 496.8,383.0" fill="none" stroke="#ffaa00" stroke-width="3.2" stroke-linejoin="round"/>
<polygon points="597.5,335.3 603.4,335.3 603.4,337.1 597.5,337.1" fill="none" stroke="#ffaa00" stroke-width="3.2" stroke-linejoin="round"/>
<polygon points="498.3,383.0 502.8,383.0 502.8,385.2 499.8,384.8" fill="none" stroke="#ffaa00" stroke-width="3.2" stroke-linejoin="round"/>
<polygon points="190.2,338.5 196.2,338.5 196.2,343.8 190.2,343.8" fill="#ff0000"/>
<polygon points="222.3,337.8 228.3,337.8 228.3,340.8 222.3,340.8" fill="#ff0000"/>
<polygon points="241.7,337.1 246.2,337.1 246.2,339.6 241.7,339.6" fill="#ff0000"/>
<polygon points="429.0,328.1 436.5,321.4 452.0,318.7 452.0,352.7 445.4,352.7 436.5,349.0 429.7,343.0 428.3,334.8" fill="#ff0000"/>
<polygon points="452.0,319.1 461.0,320.6 468.4,325.1 472.2,332.6 472.2,340.8 469.2,347.5 461.7,351.5 452.0,352.7" fill="#ff0000"/>
<polygon points="519.9,296.0 525.2,296.0 525.2,298.2 519.9,298.2" fill="#ff0000"/>
<polygon points="572.2,337.8 575.9,337.8 575.9,340.5 572.2,340.5" fill="#ff0000"/>
<polygon points="496.8,381.1 501.3,379.6 504.3,383.0 496.8,383.0" fill="#ff0000"/>
<polygon points="597.5,335.3 603.4,335.3 603.4,337.1 597.5,337.1" fill="#ff0000"/>
<polygon points="498.3,383.0 502.8,383.0 502.8,385.2 499.8,384.8" fill="#ff0000"/>
<polygon points="436.5,297.5 440.9,293.7 441.7,298.2" fill="#000000"/>
<polygon points="564.0,332.6 567.0,331.8 567.3,337.8 564.3,338.5" fill="#000000"/>
<polygon points="576.7,350.5 584.2,350.5 584.2,353.5 576.7,353.5" fill="#000000"/>
<polygon points="560.3,354.2 562.8,354.2 562.8,357.2 560.3,357.2" fill="#000000"/>
<polygon points="564.0,375.9 570.0,374.4 570.7,378.1 564.0,378.1" fill="#000000"/>
<polygon points="609.4,319.9 611.6,316.9 613.9,319.9 613.6,323.6 610.9,324.7 609.4,322.9" fill="#000000"/>
<polygon points="315.7,430.8 317.0,430.8 317.0,440.5 314.9,439.7" fill="#000000"/>
<polygon points="481.1,421.8 487.8,421.8 487.8,425.6 481.9,425.6" fill="#000000"/>
<polygon points="634.8,439.7 638.5,437.5 643.0,439.0 641.5,441.5 637.0,441.5" fill="#000000"/>
</g>
<g clip-path="url(#fc)" fill="none" stroke="#000" stroke-width="1.8" stroke-linejoin="round" stroke-linecap="round">
<path d="M182.0 209.7L190.2 209.7" stroke-width="3.5"/>
<path d="M182.0 216.1L196.9 215.2L202.9 212.7L211.9 212.0L226.8 212.7L237.3 213.5L241.7 217.9L246.2 218.7L250.7 216.7L255.2 217.2L259.7 218.7L263.4 221.7L268.6 222.4"/>
<path d="M267.1 222.7L275.3 222.7" stroke-width="3.5"/>
<path d="M182.0 220.9L188.0 222.1L194.7 219.7"/>
<path d="M205.9 226.9L212.6 223.2L217.8 223.9L232.8 225.4L234.3 227.6L207.4 228.1Z"/>
<path d="M244.7 219.1L263.4 222.1L247.7 222.1"/>
<text x="199.6" y="222.1" font-family="'Liberation Sans', sans-serif" font-size="13" font-weight="bold" stroke="none" fill="#000" letter-spacing="2.4">0</text>
<text x="217.8" y="222.1" font-family="'Liberation Sans', sans-serif" font-size="13" font-weight="bold" stroke="none" fill="#000" letter-spacing="2.4">00</text>
<path d="M281.3 205.7L292.5 207.5L297.7 210.5L301.5 214.9L308.9 216.4L317.0 217.2"/>
<path d="M317.0 220.2L307.4 221.7L300.0 225.4L295.5 230.6L288.0 235.1L301.5 236.6L308.9 236.6L317.0 235.1"/>
<path d="M263.8 235.1L271.6 233.6L276.8 234.4L276.8 237.3L271.6 238.1L263.8 235.9Z"/>
<path d="M263.8 235.4L271.6 235.9" stroke-width="3"/>
<path d="M182.0 247.8L188.0 246.6L193.9 248.5L205.9 247.8L211.9 245.6L219.3 244.8L226.8 247.1L238.7 244.1L247.7 243.3L253.7 245.6L261.1 247.1L259.7 249.3L252.9 252.3L256.7 254.5L265.6 255.3L271.6 256.8L279.1 256.0L285.0 253.0L291.8 253.0L294.7 255.3"/>
<text x="298.2" y="258.6" font-family="'Liberation Sans', sans-serif" font-size="13.5" font-weight="bold" stroke="none" fill="#000" letter-spacing="2.4" transform="rotate(-3 298.2 258.6)">0.00</text>
<path d="M235.0 260.0L259.7 259.3" stroke-width="3.5"/>
<path d="M186.8 268.3L192.2 268.3" stroke-width="4"/>
<circle cx="214.9" cy="263.9" r="1.2" fill="#000" stroke="none"/>
<path d="M182.0 291.1L186.5 286.6L188.0 280.7L196.9 274.7L204.4 267.2L211.9 265.0L213.4 268.7L211.1 276.2L215.6 279.2L222.3 274.7L231.3 272.4L241.7 270.9L249.2 271.7L248.5 274.7L241.7 280.7L234.3 285.9L241.7 286.6L247.7 282.1L255.2 277.7L262.6 276.2L264.1 280.7L259.7 282.9L255.2 284.4L259.7 288.1L262.6 291.1L265.6 288.9L274.6 282.1L279.1 276.9L286.5 271.7L288.8 273.2L286.5 279.2L289.5 280.7L294.0 283.6L297.7 291.1L301.5 289.6L308.9 282.1L313.4 276.9L317.0 280.7"/>
<path d="M223.8 289.2L228.6 289.2" stroke-width="3"/>
<path d="M368.5 204.8L376.7 209.0L387.2 211.2L396.1 214.2L406.6 214.5L421.5 214.5L429.0 213.8L421.5 212.3L409.6 211.2L405.9 210.2L412.6 209.0L421.5 208.2L436.5 209.0L452.0 209.0"/>
<path d="M405.4 210.2L412.6 210.5" stroke-width="3"/>
<path d="M452.0 212.7L445.4 214.2L450.7 218.7L452.0 218.7"/>
<path d="M317.0 235.1L321.5 232.9L327.5 232.1L336.4 233.6L346.1 234.1"/>
<text x="350.2" y="236.2" font-family="'Liberation Sans', sans-serif" font-size="12.5" font-weight="bold" stroke="none" fill="#000" letter-spacing="2.4" transform="rotate(-12 350.2 236.2)">0.00</text>
<path d="M387.9 228.1L393.2 228.4L398.4 230.6L407.3 231.4L405.1 227.6L402.1 226.9L406.6 225.7L421.5 225.4L436.5 226.1L445.4 223.9L452.0 223.2"/>
<path d="M411.1 238.8L420.0 233.6L432.0 232.9L434.2 235.1L421.5 241.1L415.6 241.1Z"/>
<path d="M410.8 247.4L418.5 247.4" stroke-width="4"/>
<path d="M334.9 254.5L340.9 255.3L344.6 256.0L340.9 260.5L343.1 263.5L347.6 264.2L346.9 266.5L339.4 269.5L334.9 273.2L336.4 277.7L340.9 277.7L354.3 267.2L366.3 264.2L373.7 259.0L382.7 255.3L388.7 254.5L397.6 254.5L399.1 256.8L394.7 260.5L387.9 261.2L386.4 264.2L399.1 264.2L406.6 260.5L414.1 259.7L421.5 262.7L429.0 263.5L433.5 260.5L435.0 255.3L443.9 254.5L452.0 256.0"/>
<path d="M352.1 260.5L357.3 256.8L369.3 255.3L367.8 257.5L360.3 260.5Z"/>
<path d="M331.2 281.0L334.6 279.2L334.2 282.9Z"/>
<circle cx="417.8" cy="268.3" r="1.8" fill="#000" stroke="none"/>
<circle cx="400.9" cy="285.6" r="1.8" fill="#000" stroke="none"/>
<circle cx="317.3" cy="217.9" r="2" fill="#000" stroke="none"/>
<path d="M365.1 281.0L372.0 281.0" stroke-width="4"/>
<path d="M317.0 285.9L321.5 286.6L324.5 284.4L328.9 286.6L334.9 285.9L340.9 287.4L346.9 284.4L351.3 286.6L357.3 284.4L361.1 285.1L360.3 288.1L355.8 291.1L352.8 293.0"/>
<path d="M336.4 293.0L337.9 291.1L340.9 293.0"/>
<path d="M388.7 293.0L400.6 288.1L403.6 285.9L409.6 288.1L418.5 288.9L424.5 286.6L425.3 293.0"/>
<text x="456.5" y="211.2" font-family="'Liberation Sans', sans-serif" font-size="12.5" font-weight="bold" stroke="none" fill="#000" letter-spacing="2.4">1.</text>
<text x="476.6" y="211.2" font-family="'Liberation Sans', sans-serif" font-size="12.5" font-weight="bold" stroke="none" fill="#000" letter-spacing="2.4">00</text>
<path d="M452.0 212.7L468.4 212.0L474.4 214.9L476.6 218.4L487.8 217.9L501.3 214.2L514.7 212.0L535.6 210.5L556.5 208.2L573.0 209.7L562.5 207.2L559.5 205.2"/>
<path d="M496.8 206.7L520.7 205.5"/>
<path d="M452.0 217.9L455.0 221.7L452.0 223.9"/>
<path d="M587.0 228.4L580.4 230.6L574.5 232.1L569.2 235.1L575.9 237.3L581.9 240.3L584.9 244.1L584.2 247.8L570.0 247.8L556.5 252.3L547.6 255.3L543.8 260.5L540.1 262.0L526.7 260.5L517.7 265.7L508.7 268.0L502.8 267.2"/>
<path d="M452.0 254.5L459.5 251.5L462.5 253.8L477.4 253.0L483.4 250.0L489.3 252.3L498.3 252.3L505.8 248.5L516.2 247.1L523.7 247.8L526.7 252.3L529.7 255.3L534.1 253.0L537.9 251.5L538.6 255.3L535.6 257.5L529.7 257.5"/>
<text x="491.1" y="267.2" font-family="'Liberation Sans', sans-serif" font-size="12.5" font-weight="bold" stroke="none" fill="#000" letter-spacing="2.4">0</text>
<text x="509.0" y="264.5" font-family="'Liberation Sans', sans-serif" font-size="12.5" font-weight="bold" stroke="none" fill="#000" letter-spacing="2.4" transform="rotate(-10 509.0 264.5)">00</text>
<text x="501.3" y="278.0" font-family="'Liberation Sans', sans-serif" font-size="12.5" font-weight="bold" stroke="none" fill="#000" letter-spacing="2.4" transform="rotate(6 501.3 278.0)">0.00</text>
<path d="M452.0 291.1L456.5 288.1L455.0 282.1L461.0 279.9L471.4 276.2L477.4 271.7L484.1 270.2L487.1 265.7"/>
<path d="M498.3 273.2L504.3 265.0"/>
<path d="M537.1 277.4L547.6 276.9L555.0 273.9L562.5 276.2L566.2 276.9L562.5 280.7L556.5 283.6L552.1 286.6L547.6 291.1L544.6 293.0"/>
<path d="M562.5 293.0L567.0 286.6L574.5 283.6L581.9 284.4L584.9 279.2L587.0 276.2"/>
<path d="M587.0 280.7L584.9 282.9L584.9 289.6L587.0 291.1"/>
<path d="M587.0 228.4L593.0 225.4L601.2 223.2L603.4 217.9L612.4 215.7L619.1 211.2L624.3 209.7L636.3 209.0L642.3 209.7L651.2 213.5L665.4 213.8"/>
<path d="M652.7 213.8L665.4 213.8" stroke-width="3.5"/>
<path d="M651.2 213.5L639.3 215.7L625.8 217.2L617.6 217.9L622.8 221.7L616.9 223.9L612.4 227.6L606.4 229.9L597.5 235.1L591.5 238.8L592.2 242.6"/>
<path d="M651.2 222.4L655.7 220.6L666.9 221.2L665.4 226.1L655.7 226.6Z"/>
<path d="M676.6 210.2L685.6 209.0L721.4 208.7L718.4 210.5L706.5 212.7L691.5 213.8L682.6 213.5Z"/>
<path d="M722.0 215.7L713.9 217.2L710.2 218.7L713.9 220.9L722.0 220.9"/>
<path d="M695.3 230.6L702.0 228.7L707.2 230.6L702.0 232.1Z" stroke-width="3"/>
<path d="M697.5 243.0L713.2 243.0" stroke-width="4"/>
<text x="595.7" y="246.0" font-family="'Liberation Sans', sans-serif" font-size="12.5" font-weight="bold" stroke="none" fill="#000" letter-spacing="2.4">0.00</text>
<path d="M610.9 235.1L616.9 230.6L622.8 229.9L631.8 231.4L642.3 230.2L649.7 231.4L657.2 233.6L670.6 234.4L682.6 235.1L690.0 234.1L690.8 239.6L693.8 243.0L688.5 246.3L684.1 252.3L687.1 256.0L679.6 255.3L670.6 258.3L661.7 257.5L659.4 256.0L667.6 253.8L675.1 249.3L679.6 247.1L675.1 243.3L670.6 238.8L664.7 237.0L658.7 238.8L652.7 242.6L655.7 246.3L652.7 248.5L643.7 250.8L637.8 250.8L631.8 253.0L624.3 256.0L618.4 259.0L611.6 260.2L616.9 262.0L622.8 266.5L628.8 264.2L643.7 261.2L652.7 260.5L666.1 262.7L667.6 265.7L665.4 268.7L661.7 270.2L655.7 272.4L648.2 272.4L643.0 268.0L638.5 268.7L631.8 270.2L621.3 270.9L619.1 273.2L604.9 273.2L596.0 270.9L587.0 273.2"/>
<path d="M610.9 235.1L618.4 238.5L630.3 237.3L638.5 238.1L640.0 239.6L634.8 243.3"/>
<path d="M590.0 259.7L599.7 259.7" stroke-width="3"/>
<path d="M722.0 248.5L710.9 250.0L705.0 253.8L697.5 259.7L691.5 260.5L682.6 262.0L677.3 268.0L681.1 272.4L685.6 271.7L693.0 268.0L698.3 272.4L691.5 274.7L688.5 279.2"/>
<text x="640.8" y="285.9" font-family="'Liberation Sans', sans-serif" font-size="12.5" font-weight="bold" stroke="none" fill="#000" letter-spacing="2.4" transform="rotate(-25 640.8 285.9)">0</text>
<text x="648.5" y="280.7" font-family="'Liberation Sans', sans-serif" font-size="12.5" font-weight="bold" stroke="none" fill="#000" letter-spacing="2.4" transform="rotate(-20 648.5 280.7)">0</text>
<text x="674.8" y="288.1" font-family="'Liberation Sans', sans-serif" font-size="12.5" font-weight="bold" stroke="none" fill="#000" letter-spacing="2.4" transform="rotate(-10 674.8 288.1)">0</text>
<text x="683.0" y="284.4" font-family="'Liberation Sans', sans-serif" font-size="12.5" font-weight="bold" stroke="none" fill="#000" letter-spacing="2.4" transform="rotate(-10 683.0 284.4)">0</text>
<text x="657.2" y="294.4" font-family="'Liberation Sans', sans-serif" font-size="12.5" font-weight="bold" stroke="none" fill="#000" letter-spacing="2.4">0</text>
<path d="M622.8 293.0L628.8 286.6L636.3 280.7L642.3 276.2L646.0 273.9"/>
<path d="M602.7 285.9L609.4 278.4L615.4 277.7L619.1 280.7L613.1 285.1Z"/>
<path d="M587.0 279.2L591.5 280.7L596.0 284.4L591.5 289.6L587.0 293.0"/>
<path d="M621.3 293.0L625.8 288.1L629.6 287.4L631.8 293.0"/>
<circle cx="638.5" cy="289.6" r="1.3" fill="#000" stroke="none"/>
<circle cx="670.6" cy="291.1" r="1.3" fill="#000" stroke="none"/>
<circle cx="717.7" cy="268.7" r="2" fill="#000" stroke="none"/>
<circle cx="708.3" cy="272.4" r="1.5" fill="#000" stroke="none"/>
<path d="M722.0 288.9L718.4 291.9L706.5 293.0"/>
<path d="M182.0 297.5L188.0 303.5L196.9 304.2L201.4 306.4L205.9 310.9L208.9 304.2L220.8 302.7L223.8 307.2L228.3 300.5L234.3 298.2L241.0 296.7L241.7 305.7L246.2 309.4L252.2 310.2L258.2 312.4L263.4 313.2L264.9 303.5L271.6 300.5L286.5 299.0L292.5 294.5L295.5 293.0"/>
<path d="M300.0 293.0L305.9 300.5L310.4 301.2L317.0 299.0"/>
<path d="M301.5 302.0L305.9 301.2"/>
<path d="M210.4 293.4L224.6 293.4" stroke-width="4"/>
<circle cx="265.6" cy="293.7" r="2.5" fill="#000" stroke="none"/>
<circle cx="274.9" cy="310.9" r="2.1" fill="#000" stroke="none"/>
<path d="M289.8 310.2L294.3 310.2" stroke-width="3.2"/>
<circle cx="253.7" cy="318.4" r="1.5" fill="#000" stroke="none"/>
<circle cx="257.4" cy="331.1" r="2.5" fill="#000" stroke="none"/>
<circle cx="266.4" cy="339.3" r="1.8" fill="#000" stroke="none"/>
<path d="M182.0 325.1L186.5 329.6L191.0 331.1L198.4 327.3L207.4 329.6L217.8 329.6L220.1 325.9L226.8 332.6L234.3 334.1L241.7 330.3L247.7 330.3L255.2 325.1L261.1 328.1L271.6 328.4L275.9 325.9L278.9 322.0L283.0 319.9L287.9 320.5L291.9 323.5L296.8 325.4L300.9 322.4L304.9 320.5L306.4 323.9L304.9 328.8L300.9 332.9L296.8 334.8L295.9 343.8L293.4 342.9L291.5 335.9L290.0 339.9L291.5 343.8L287.0 347.4L281.9 347.8L278.5 349.3L277.0 344.8L281.0 341.8L283.0 338.8L281.9 334.8L277.0 332.9L272.0 332.1L268.6 335.6L265.6 336.3L259.7 336.3L255.2 334.8L249.2 340.8L241.7 343.0L232.8 344.5L228.3 348.3L225.3 345.3L219.3 342.3L213.4 343.0L211.9 349.7L208.9 354.2L201.4 358.7L195.4 356.5L201.4 352.7L207.4 351.2L204.4 344.5L195.4 345.3L186.5 349.0L182.0 350.5"/>
<path d="M204.4 339.3L207.4 337.8L210.4 339.3L207.4 342.3Z"/>
<path d="M282.1 325.1L286.5 323.6L288.8 325.9L286.5 329.6L282.8 328.1Z"/>
<path d="M228.3 344.5L233.5 343.8L232.0 348.3L228.3 348.3Z"/>
<path d="M317.0 334.8L308.9 333.3L305.9 336.3L308.9 339.3L311.2 336.3L317.0 336.3"/>
<path d="M263.4 352.7L266.4 349.7L268.3 352.7L266.4 358.7"/>
<path d="M237.3 358.7L241.0 355.0L247.7 360.9L253.7 360.9L247.7 364.7L240.2 363.9Z"/>
<path d="M265.6 358.7L271.6 358.0L277.6 363.2L281.3 369.2L283.5 370.7L277.6 373.6L271.6 376.6L272.3 383.0"/>
<path d="M253.7 383.0L255.2 376.6L252.2 372.1L252.2 366.9L259.7 366.2L265.6 358.7"/>
<path d="M281.3 360.2L285.0 354.2L288.8 352.7L289.5 358.7L286.5 363.2L282.8 362.4Z"/>
<path d="M295.5 363.9L300.0 361.7L302.2 364.7L299.2 367.7L296.2 366.2Z"/>
<path d="M288.8 379.6L292.5 372.1L294.7 376.6L292.5 380.4Z"/>
<path d="M310.4 355.0L314.2 355.0L313.4 359.5L308.9 361.7L307.4 370.7L308.2 376.6L305.9 383.0"/>
<path d="M317.0 374.4L311.9 376.6L310.4 379.6L317.0 381.1"/>
<path d="M182.0 370.7L188.0 367.7L190.2 364.7L199.9 365.4L202.9 372.1L206.6 369.2L211.9 367.7L217.1 369.2L220.8 372.1L226.8 370.7L229.8 366.2L235.0 367.7L231.3 372.1L232.8 378.1L237.3 379.6L241.7 375.9L249.2 376.6L253.7 383.0"/>
<path d="M188.0 367.7L185.0 372.1L188.0 375.9L191.0 376.6"/>
<path d="M197.7 372.9L201.4 376.3L206.6 374.8L204.4 370.7"/>
<path d="M217.8 376.6L222.3 381.1L225.3 383.0"/>
<path d="M317.0 297.5L321.5 301.2L326.0 304.2L331.9 305.7L336.4 297.5L337.9 293.0"/>
<path d="M341.6 293.0L339.4 299.0L341.6 304.2L348.4 304.9L354.3 301.2L361.8 301.2L366.3 304.2L372.3 305.7L379.7 306.4L382.7 303.5L381.2 299.7L387.2 299.7L393.9 302.0L393.2 304.9L387.2 304.9L382.7 307.2L383.5 311.7L387.2 311.7L387.2 307.2"/>
<path d="M354.3 293.0L360.3 296.7L367.8 297.5L373.7 296.0L379.7 297.5L382.7 299.0"/>
<path d="M402.1 306.4L405.1 302.0L409.6 297.5L420.0 294.5L424.5 293.0"/>
<path d="M406.6 306.4L412.6 302.0L415.6 300.5L415.6 309.4L418.5 315.4L416.3 319.6"/>
<path d="M452.0 296.0L446.9 298.2L443.9 302.0L442.4 307.9L436.5 309.4L430.5 313.2L427.5 316.9L426.0 320.6L428.3 327.3L426.8 337.8L427.5 349.7L421.5 352.7L418.5 355.7L412.6 360.2L407.3 360.9L406.6 364.7L409.6 369.2L415.6 369.9L420.0 364.7L424.5 367.7L421.5 373.6L427.5 376.6L432.0 381.1L436.5 383.0"/>
<path d="M452.0 303.5L446.9 305.7L449.2 309.4L452.0 310.9"/>
<text x="398.8" y="317.6" font-family="'Liberation Sans', sans-serif" font-size="12.5" font-weight="bold" stroke="none" fill="#000" letter-spacing="2.4">0</text>
<text x="407.8" y="320.6" font-family="'Liberation Sans', sans-serif" font-size="12.5" font-weight="bold" stroke="none" fill="#000" letter-spacing="2.4">0</text>
<path d="M343.9 314.4L350.6 314.4" stroke-width="3.5"/>
<circle cx="379.4" cy="314.4" r="1.6" fill="#000" stroke="none"/>
<circle cx="392.4" cy="315.1" r="1.6" fill="#000" stroke="none"/>
<path d="M390.9 322.1L397.6 320.9" stroke-width="3"/>
<path d="M333.4 319.1L337.9 316.1L340.1 319.9Z"/>
<path d="M358.1 322.9L360.3 315.4L364.0 313.2L368.5 315.4L369.3 319.9L365.5 325.1L359.6 325.9Z"/>
<path d="M329.7 331.1L337.9 325.9L342.4 330.3L339.4 336.3L334.9 335.6Z"/>
<path d="M321.5 347.5L326.0 343.8L331.9 348.3L337.9 345.3L342.4 349.7L349.9 351.2L346.9 356.5L340.9 355.0L334.9 357.2L326.0 354.2L322.2 352.0Z"/>
<path d="M331.9 348.3L333.4 352.7L334.9 357.2"/>
<path d="M366.3 350.5L373.7 351.2L378.2 355.7L373.7 358.7L368.5 358.0Z"/>
<path d="M384.2 352.0L388.7 351.2L390.2 353.5L387.2 355.7Z"/>
<circle cx="388.7" cy="360.2" r="1.6" fill="#000" stroke="none"/>
<text x="399.4" y="367.2" font-family="'Liberation Sans', sans-serif" font-size="12.5" font-weight="bold" stroke="none" fill="#000" letter-spacing="2.4">0</text>
<path d="M424.5 356.5L435.0 355.0L431.2 362.4Z"/>
<path d="M328.9 383.0L326.0 381.1L327.5 376.6L324.5 369.2L328.9 366.2L336.4 369.2L342.4 374.4L345.4 378.9L352.8 379.6L361.8 378.9L364.8 374.4L360.3 369.9L367.8 367.7L379.7 366.2L382.7 369.2L376.7 373.6L370.8 375.9L370.0 383.0"/>
<path d="M387.2 378.1L393.2 375.1L398.4 381.1L397.6 383.0"/>
<path d="M387.2 378.1L391.7 383.0"/>
<path d="M439.5 366.2L443.9 363.2L448.4 370.7L452.0 375.1"/>
<path d="M469.7 337.2L464.2 346.9L451.5 351.0L438.8 346.9L433.3 337.2L438.8 327.5L451.5 323.4L464.2 327.5Z" stroke-width="1.2"/>
<path d="M465.8 337.2L461.5 344.7L451.5 347.9L441.5 344.7L437.2 337.2L441.5 329.7L451.5 326.5L461.5 329.7Z" stroke-width="1.2"/>
<path d="M462.8 337.2L459.4 343.1L451.5 345.6L443.6 343.1L440.2 337.2L443.6 331.3L451.5 328.8L459.4 331.3Z" stroke-width="1.2"/>
<path d="M460.5 337.2L457.8 341.8L451.5 343.8L445.2 341.8L442.5 337.2L445.2 332.6L451.5 330.6L457.8 332.6Z" stroke-width="1.2"/>
<path d="M458.2 337.2L456.2 340.6L451.5 342.0L446.8 340.6L444.8 337.2L446.8 333.8L451.5 332.4L456.2 333.8Z" stroke-width="1.2"/>
<path d="M448.3 334.6L455.1 335.0L451.8 340.5Z" stroke-width="1.3" fill="#000"/>
<circle cx="536.4" cy="376.6" r="1.8" fill="#000" stroke="none"/>
<path d="M571.5 319.9L574.5 316.9L577.4 319.9L574.5 322.1Z"/>
<path d="M452.0 302.0L461.0 299.0L466.2 301.2L458.0 309.4L452.0 309.4"/>
<path d="M472.9 293.0L478.9 296.0L474.4 302.0L476.6 307.2L469.9 310.2L475.9 312.4L476.6 319.9L469.9 322.9L472.9 330.3L474.4 334.8L481.1 335.6L475.9 337.8L474.4 343.8L472.9 349.0L466.9 352.7L459.5 357.2L458.0 363.2L452.0 366.2"/>
<path d="M481.1 293.0L482.5 296.0L484.9 300.9L492.9 306.9L493.8 310.9L496.8 310.5L499.8 302.0L505.8 300.5L506.4 303.9L502.8 309.9L515.8 309.9L518.8 306.0L523.7 304.9L531.7 309.0L536.7 312.4L545.6 306.0L541.6 302.0L544.6 296.0L546.8 293.0"/>
<path d="M558.8 293.0L559.5 297.5L565.5 302.0L571.5 305.7L587.0 306.4"/>
<path d="M567.0 293.0L567.7 299.0L571.5 302.0L578.9 300.5L579.7 293.0"/>
<path d="M494.6 343.8L501.3 337.8L507.3 330.3L520.7 328.8L523.7 331.8L522.2 336.3L516.2 340.8L511.7 345.3L514.7 349.4L508.7 349.7L499.8 347.5Z"/>
<path d="M526.7 319.1L535.6 318.4L541.6 322.1L549.1 321.4L553.5 316.9L556.5 320.6L565.5 322.9L567.7 328.8L571.5 331.8L587.0 330.3"/>
<path d="M587.0 343.8L578.9 343.8L568.5 346.8L562.5 343.0L549.1 344.5L535.6 345.3L526.7 343.8L524.4 339.3L532.6 335.6L538.6 330.3L532.6 325.9L526.7 322.9L526.7 319.1"/>
<path d="M462.5 369.2L466.9 366.2L481.9 366.2L487.8 361.7L495.3 358.0L499.8 363.2L503.5 369.2L511.7 367.7L514.7 366.2L513.2 370.7L517.7 373.6L523.7 376.6L526.7 383.0"/>
<path d="M462.5 369.2L466.9 373.6L468.4 378.1L474.4 376.6L478.9 378.9L481.9 383.0"/>
<path d="M474.4 373.6L476.6 371.4L477.4 376.6"/>
<path d="M553.5 383.0L553.5 373.6L556.5 369.2L568.5 366.2L578.9 361.7L584.9 363.9L587.0 370.7"/>
<circle cx="687.8" cy="360.9" r="2.5" fill="#000" stroke="none"/>
<circle cx="632.5" cy="318.4" r="1.5" fill="#000" stroke="none"/>
<circle cx="657.9" cy="318.4" r="1.3" fill="#000" stroke="none"/>
<path d="M587.0 307.9L596.0 306.4L601.9 302.0L616.9 303.5L622.8 307.2L630.3 304.9L631.8 297.5L630.3 293.0"/>
<path d="M622.8 302.0L627.3 301.2"/>
<path d="M638.5 310.2L645.2 302.7L648.2 310.2Z"/>
<path d="M660.9 306.4L668.4 301.2L669.9 307.2Z"/>
<path d="M672.9 307.2L676.6 303.5L680.3 305.7L679.6 310.2L675.1 312.1Z"/>
<path d="M651.2 310.2L655.7 308.7L657.2 313.9L654.2 316.1Z"/>
<path d="M710.9 293.0L702.0 297.5L693.0 307.9L696.0 311.7L706.5 307.9L710.9 305.7L713.2 299.0L716.9 295.2L722.0 293.7"/>
<path d="M704.2 311.7L710.2 310.9L710.2 321.4L705.0 322.1Z"/>
<path d="M722.0 322.9L718.4 319.9L713.9 322.9L718.4 327.3L722.0 329.6"/>
<path d="M643.7 327.3L649.7 321.4L661.7 320.6L676.6 324.4L685.6 322.1L694.5 322.9L702.0 327.3L706.5 333.3L713.9 330.3L715.4 336.3L706.5 339.3L697.5 340.8L688.5 339.3L685.6 340.8L691.5 343.8L697.5 349.7L700.5 358.7L706.5 367.7L703.5 372.1L696.0 373.6L691.5 366.2L682.6 366.2L670.6 366.9L664.7 360.2L667.6 352.7L667.6 343.8L661.7 339.3L655.7 343.8L652.7 346.8L636.3 346.0L634.8 336.3L637.8 334.8L642.3 335.6L645.2 340.8L648.2 337.8L648.2 333.3Z"/>
<path d="M674.4 347.5L684.8 346.8L680.3 353.5Z"/>
<path d="M587.0 333.3L596.0 331.1L604.9 332.6L610.1 337.8L606.4 344.5L597.5 346.8L587.0 344.5"/>
<path d="M612.4 339.3L619.9 336.3L627.3 337.8L627.3 343.8L616.9 346.0L613.1 343.8Z"/>
<path d="M628.8 355.7L636.3 352.7L640.8 358.7L649.7 360.2L648.2 364.7L643.7 367.7L645.2 376.6L652.7 383.0"/>
<path d="M628.8 355.7L634.8 361.7L636.3 367.7L633.3 375.1L624.3 376.6L622.8 383.0"/>
<path d="M587.0 376.6L591.5 379.6L596.0 383.0"/>
<path d="M596.0 378.1L598.9 374.4L604.9 374.4L610.9 383.0"/>
<path d="M722.0 343.8L718.4 342.3L712.4 343.8L713.9 349.7L709.5 358.7"/>
<path d="M710.9 366.2L713.9 360.2L715.4 366.2Z"/>
<path d="M706.5 383.0L706.5 376.6L709.5 373.6L715.4 376.6L722.0 378.9"/>
<path d="M182.0 392.0L188.0 394.2L196.9 397.9L201.4 400.9L208.9 406.9L217.8 410.6L226.1 410.6L226.8 406.9L222.3 405.4L217.1 402.4L222.3 397.9L231.3 394.2L235.0 389.7"/>
<text x="234.3" y="394.6" font-family="'Liberation Sans', sans-serif" font-size="12.5" font-weight="bold" stroke="none" fill="#000" letter-spacing="2.4" transform="rotate(-4 234.3 394.6)">0.00</text>
<path d="M265.6 386.7L271.6 390.5L279.1 394.9L286.5 397.2L293.3 397.9L293.3 393.5L289.5 389.0L285.0 387.5L279.1 386.0L274.6 383.0"/>
<path d="M305.9 383.0L308.9 387.5L313.4 389.7L317.0 389.7"/>
<text x="269.8" y="421.5" font-family="'Liberation Sans', sans-serif" font-size="13.5" font-weight="bold" stroke="none" fill="#000" letter-spacing="2.4">0.00</text>
<path d="M182.0 424.1L191.0 422.6L199.9 424.8L208.9 427.1L217.8 430.0L223.8 431.5L224.3 434.5"/>
<path d="M224.3 434.5L224.6 430.8L226.8 426.3L237.3 423.3L247.7 423.6L256.7 424.5L264.9 424.8L264.1 422.1L256.7 419.6L250.7 415.9L248.5 411.4L244.7 409.9"/>
<path d="M248.5 411.4L255.2 412.1L262.6 415.1L265.6 417.3"/>
<path d="M281.3 406.1L288.0 406.1" stroke-width="4"/>
<path d="M294.0 406.4L299.2 406.4" stroke-width="3"/>
<path d="M298.5 409.9L303.0 409.9L308.9 405.4L313.4 404.7L317.0 406.9"/>
<path d="M298.5 409.9L304.5 415.1L310.4 419.6"/>
<path d="M292.5 427.1L301.5 426.3L313.4 426.3L311.9 422.6L317.0 421.8"/>
<path d="M292.5 427.1L298.5 430.8L307.4 435.3L311.9 436.0L301.5 437.5L286.5 439.0L271.6 439.7L256.7 440.5L247.7 440.5L238.7 438.6L235.0 440.5L232.8 445.7L232.0 449.5L223.8 449.5L214.9 450.2L205.9 447.2L196.9 444.2L188.0 442.0L182.0 440.5"/>
<path d="M194.7 436.0L199.9 434.5L205.9 435.3L204.4 438.0L198.4 438.3Z" stroke-width="2.5"/>
<path d="M249.2 452.4L255.2 448.0L262.6 446.5L269.4 448.7L267.9 452.4L262.6 454.7L253.7 455.0Z"/>
<path d="M317.0 450.9L313.4 450.9L308.9 452.4L313.4 454.4L317.0 455.0"/>
<path d="M182.0 453.2L188.0 452.4L196.9 454.4L211.9 455.4L220.8 456.2L224.6 459.2L228.3 460.7L222.3 463.6L211.9 466.6L204.4 468.1L196.9 469.6L188.0 470.4L182.0 471.1"/>
<path d="M183.2 410.9L187.2 410.9" stroke-width="3"/>
<circle cx="267.1" cy="427.5" r="1" fill="#000" stroke="none"/>
<path d="M317.0 383.0L319.2 386.0L317.0 389.7"/>
<path d="M328.9 383.0L331.9 386.0L342.4 388.2L351.3 392.0L355.8 396.4L364.8 400.2L372.3 403.2L379.7 406.1L381.2 402.4L376.7 401.7L372.3 398.7L369.3 394.2L373.7 391.2L379.7 389.7L376.7 385.2L373.7 383.0"/>
<path d="M386.4 394.2L388.7 397.9L394.7 400.9L400.6 405.4L403.6 407.6L406.6 403.9L412.6 397.9L418.5 394.2L426.8 392.7L426.8 389.0L421.5 388.2L418.5 390.5L415.6 386.0L411.1 385.2L408.8 389.7L403.6 390.5L397.6 394.2L391.7 392.0Z"/>
<path d="M452.0 388.2L445.4 388.2L439.5 389.0L438.0 392.0L440.9 396.4L446.9 397.2L449.9 393.5L447.7 390.5"/>
<path d="M446.9 397.2L452.0 402.4"/>
<path d="M328.9 397.9L334.9 397.2L339.4 400.9L345.4 403.2L347.6 408.4L349.1 415.1L342.4 415.1L339.4 412.1L331.9 411.4L323.0 412.1L317.0 409.1"/>
<path d="M328.9 397.9L333.4 401.7L339.4 400.9"/>
<path d="M339.4 400.9L352.8 405.4L360.3 409.1L369.3 412.1L379.7 412.9L388.7 413.6L391.7 415.9L400.6 417.3L409.6 416.6L412.6 414.4L412.6 411.4L421.5 411.4L433.5 415.9L440.9 418.8L446.9 424.1L452.0 425.6"/>
<path d="M317.0 422.6L328.9 422.6L339.4 424.8L346.9 427.1L352.8 430.8L355.8 433.8L364.8 434.5L373.7 436.0L384.2 436.8L393.2 438.3L397.6 441.2L405.1 443.5L411.1 444.2"/>
<path d="M393.9 446.0L406.6 444.5L411.4 444.2" stroke-width="3"/>
<path d="M317.0 430.8L323.0 427.8L328.9 429.3L334.2 431.5L333.4 434.5L327.5 436.8L323.0 439.7L317.0 440.5"/>
<path d="M373.7 448.0L369.3 447.2L360.3 445.7L354.3 442.7L343.9 442.7L337.2 443.9L342.4 445.7L348.4 449.5L358.8 450.2L366.3 449.5L372.3 448.0"/>
<path d="M337.2 443.9L343.1 444.2" stroke-width="3"/>
<text x="356.1" y="458.1" font-family="'Liberation Sans', sans-serif" font-size="12.5" font-weight="bold" stroke="none" fill="#000" letter-spacing="2.4">0</text>
<circle cx="369.3" cy="455.4" r="1" fill="#000" stroke="none"/>
<text x="373.7" y="453.9" font-family="'Liberation Sans', sans-serif" font-size="12.5" font-weight="bold" stroke="none" fill="#000" letter-spacing="2.4" transform="rotate(-10 373.7 453.9)">0</text>
<text x="382.4" y="452.0" font-family="'Liberation Sans', sans-serif" font-size="12.5" font-weight="bold" stroke="none" fill="#000" letter-spacing="2.4" transform="rotate(-10 382.4 452.0)">0</text>
<path d="M415.6 444.2L423.0 443.9" stroke-width="3.5"/>
<path d="M423.0 443.9L427.5 439.7L430.5 438.3L452.0 438.6"/>
<path d="M423.0 443.9L430.5 445.0L436.5 447.2L442.4 449.5L452.0 450.9"/>
<path d="M412.6 456.5L424.5 456.2" stroke-width="4"/>
<path d="M317.0 450.2L324.5 453.2L328.9 453.9L333.4 456.9L343.9 456.9L351.3 455.9"/>
<path d="M317.0 454.7L323.0 456.9L327.5 460.7L331.9 464.4L340.9 465.9L349.9 466.6L354.3 468.9"/>
<path d="M452.0 392.7L456.5 392.0L463.9 394.9L466.9 394.2L468.4 389.0L472.9 385.2L478.9 383.7L487.8 383.0"/>
<circle cx="476.6" cy="389.7" r="1.3" fill="#000" stroke="none"/>
<path d="M452.0 402.4L458.0 402.1"/>
<text x="462.8" y="408.4" font-family="'Liberation Sans', sans-serif" font-size="13.5" font-weight="bold" stroke="none" fill="#000" letter-spacing="2.4">0.00</text>
<path d="M501.3 406.1L508.7 407.6L517.7 408.4L523.7 407.6L525.2 403.2L532.6 400.2L541.6 399.4L547.6 397.9L546.8 393.5L541.6 390.5L538.6 387.5L535.6 383.0"/>
<path d="M555.0 383.0L559.5 387.5L565.5 391.2L567.0 394.9L564.0 398.7L567.0 399.4L571.5 394.9L575.9 389.0L575.9 384.5L571.5 385.2L570.0 387.5"/>
<path d="M575.9 389.0L581.9 392.0L587.0 394.2"/>
<path d="M583.4 383.0L587.0 386.0"/>
<path d="M453.5 415.1L458.0 413.6L463.9 416.6L469.9 420.3L475.9 423.3L480.4 424.1"/>
<path d="M453.5 415.1L456.5 420.3L461.0 424.1L458.0 425.6L452.0 425.6"/>
<path d="M492.3 417.3L487.8 417.0L481.9 415.1L478.9 418.8L480.4 423.3L486.3 423.3" stroke-width="2.5"/>
<text x="497.1" y="424.8" font-family="'Liberation Sans', sans-serif" font-size="13.5" font-weight="bold" stroke="none" fill="#000" letter-spacing="2.4">0.0</text>
<path d="M528.9 417.3L532.6 409.9L540.1 418.8L535.6 420.3L529.7 420.3Z"/>
<path d="M525.2 425.6L529.7 425.6L530.0 418.8L525.9 421.8Z"/>
<path d="M535.6 424.8L541.6 423.3L544.6 419.6L553.5 418.8L559.5 422.6L562.5 425.6L571.5 425.6L573.7 427.8L570.0 433.8L562.5 440.5L571.5 442.7L581.9 443.5L587.0 443.5"/>
<path d="M552.1 431.1L558.0 429.3L564.0 431.1L559.5 433.5L555.0 433.0Z"/>
<path d="M481.1 431.5L486.3 429.3L493.8 431.5L499.8 435.3L505.8 438.3L512.5 439.7L511.7 442.7L508.7 444.2L501.3 442.0L495.3 444.2L494.6 448.7L489.3 450.2L487.1 445.7L489.3 442.7L484.9 436.8L481.9 433.8Z"/>
<path d="M452.0 440.5L458.0 439.7L466.9 442.7L474.4 445.0L481.9 448.0L475.9 450.9L466.9 451.7L458.0 451.7L452.0 452.4"/>
<path d="M587.0 396.4L591.5 397.9L595.2 402.4L600.4 402.4L604.2 397.9L606.4 394.2L609.4 394.2L610.9 400.9"/>
<path d="M604.2 400.9L608.7 393.8L611.6 401.7L613.9 402.4"/>
<circle cx="615.4" cy="403.6" r="1.2" fill="#000" stroke="none"/>
<text x="621.6" y="406.9" font-family="'Liberation Sans', sans-serif" font-size="12.5" font-weight="bold" stroke="none" fill="#000" letter-spacing="2.4" transform="rotate(-8 621.6 406.9)">0</text>
<text x="630.6" y="409.1" font-family="'Liberation Sans', sans-serif" font-size="12.5" font-weight="bold" stroke="none" fill="#000" letter-spacing="2.4" transform="rotate(-8 630.6 409.1)">0</text>
<path d="M637.0 406.9L640.8 407.6L644.5 410.6L643.7 415.1L642.3 419.6L646.7 421.8L654.2 424.1L662.4 427.1L658.7 429.3L649.7 430.8L643.0 431.5L646.7 433.8L654.2 434.5L657.2 436.0L664.7 436.0L672.1 436.0L676.6 437.5L680.3 440.5L675.1 443.5L669.9 446.5L666.9 448.7L676.6 450.2L685.6 452.4L682.6 458.4L676.6 458.4L667.6 456.2L660.2 452.4L651.2 451.7L640.8 452.4L637.8 450.2L634.8 447.2L625.8 446.5L616.9 447.2L606.4 447.2L596.0 445.0L587.0 443.5"/>
<path d="M604.9 410.6L609.4 408.4L615.4 409.9L618.4 412.9L617.6 415.1L612.4 414.4L607.2 412.9Z"/>
<path d="M627.3 431.5L631.8 430.5L634.8 431.5L634.0 434.5L631.1 435.3L628.1 433.8Z"/>
<text x="659.1" y="394.6" font-family="'Liberation Sans', sans-serif" font-size="13" font-weight="bold" stroke="none" fill="#000" letter-spacing="2.4" transform="rotate(-10 659.1 394.6)">0</text>
<text x="674.1" y="404.4" font-family="'Liberation Sans', sans-serif" font-size="13" font-weight="bold" stroke="none" fill="#000" letter-spacing="2.4" transform="rotate(-8 674.1 404.4)">0</text>
<text x="682.1" y="409.4" font-family="'Liberation Sans', sans-serif" font-size="13" font-weight="bold" stroke="none" fill="#000" letter-spacing="2.4" transform="rotate(-15 682.1 409.4)">0</text>
<circle cx="668.4" cy="397.9" r="1.3" fill="#000" stroke="none"/>
<circle cx="653.5" cy="406.1" r="1.5" fill="#000" stroke="none"/>
<circle cx="657.9" cy="410.6" r="1.5" fill="#000" stroke="none"/>
<path d="M609.4 383.0L616.9 384.8L624.3 386.0L625.5 383.0"/>
<path d="M651.2 383.0L655.7 386.0"/>
<path d="M671.4 415.1L678.1 412.9L682.6 415.1L688.5 420.3L697.5 422.6L698.3 424.1L691.5 424.8L685.6 423.3L678.1 418.8Z"/>
<path d="M691.5 409.9L696.8 412.9L698.3 417.3L697.8 422.1"/>
<path d="M697.8 419.6L706.5 420.6L715.4 422.6L722.0 423.6"/>
<path d="M699.0 390.5L705.0 387.5L708.0 390.5L710.9 396.4L710.2 400.2L706.5 400.9L702.0 395.7Z"/>
<path d="M703.5 406.1L708.0 403.9L713.9 404.7L716.2 407.6L714.7 411.4L709.5 410.6Z"/>
<path d="M709.5 383.0L715.4 386.0L719.9 390.5L722.0 393.5"/>
<path d="M710.2 400.2L710.9 403.2L708.7 403.9"/>
<path d="M690.8 448.4L696.0 448.0L700.5 444.2L706.5 440.5L712.4 439.0L722.0 440.5"/>
<path d="M696.0 448.7L703.5 449.5L710.9 450.9L722.0 454.7"/>
<path d="M690.8 448.4L696.0 448.1" stroke-width="3"/>
</g>
<g shape-rendering="crispEdges">
<rect x="182" y="204" width="539" height="2" fill="#fff"/><rect x="182" y="469" width="539" height="2" fill="#fff"/>
<path d="M185.9 205H721M185.9 470H721" stroke="#000" stroke-width="2" stroke-dasharray="1 3.211" fill="none"/>
</g>
<path d="M226.92 203V189M226.92 472V486M271.83 203V189M271.83 472V486M316.75 203V189M316.75 472V486M361.67 203V189M361.67 472V486M406.58 203V189M406.58 472V486M451.50 203V189M451.50 472V486M496.42 203V189M496.42 472V486M541.33 203V189M541.33 472V486M586.25 203V189M586.25 472V486M631.17 203V189M631.17 472V486M676.08 203V189M676.08 472V486M182 247.83H168M721 247.83H735M182 292.67H168M721 292.67H735M182 337.50H168M721 337.50H735M182 382.33H168M721 382.33H735M182 427.17H168M721 427.17H735" stroke="#000" stroke-width="1.7" fill="none"/>
<path d="M197.5 203v-7M197.5 472v7M212.5 203v-7M212.5 472v7M242.5 203v-7M242.5 472v7M257.5 203v-7M257.5 472v7M287.5 203v-7M287.5 472v7M302.5 203v-7M302.5 472v7M332.5 203v-7M332.5 472v7M347.5 203v-7M347.5 472v7M377.5 203v-7M377.5 472v7M392.5 203v-7M392.5 472v7M422.5 203v-7M422.5 472v7M437.5 203v-7M437.5 472v7M466.5 203v-7M466.5 472v7M481.5 203v-7M481.5 472v7M511.5 203v-7M511.5 472v7M526.5 203v-7M526.5 472v7M556.5 203v-7M556.5 472v7M571.5 203v-7M571.5 472v7M601.5 203v-7M601.5 472v7M616.5 203v-7M616.5 472v7M646.5 203v-7M646.5 472v7M661.5 203v-7M661.5 472v7M691.5 203v-7M691.5 472v7M706.5 203v-7M706.5 472v7M182 218.5h-6M721 218.5h7M182 233.5h-6M721 233.5h7M182 263.5h-6M721 263.5h7M182 278.5h-6M721 278.5h7M182 308.5h-6M721 308.5h7M182 323.5h-6M721 323.5h7M182 352.5h-6M721 352.5h7M182 367.5h-6M721 367.5h7M182 397.5h-6M721 397.5h7M182 412.5h-6M721 412.5h7M182 442.5h-6M721 442.5h7M182 457.5h-6M721 457.5h7" stroke="#000" stroke-width="1" fill="none" shape-rendering="crispEdges"/>
<text transform="translate(186,131.2) scale(0.92,1)" font-family="'Liberation Sans', sans-serif" font-size="26.5" font-weight="normal" textLength="71.7" lengthAdjust="spacing" >rain</text>
<text transform="translate(182.5,162) scale(0.92,1)" font-family="'Liberation Sans', sans-serif" font-size="26.5" font-weight="normal" textLength="115.8" lengthAdjust="spacing" >W/m<tspan dy="4">**</tspan><tspan dy="-4">2</tspan></text>
<text transform="translate(436,131.2) scale(0.92,1)" font-family="'Liberation Sans', sans-serif" font-size="26.5" font-weight="normal" textLength="309.2" lengthAdjust="spacing" >bSSTepa-bSSTezon</text>
<text transform="translate(400,162) scale(0.92,1)" font-family="'Liberation Sans', sans-serif" font-size="26.5" font-weight="normal" textLength="348.4" lengthAdjust="spacing" >2700.0DAY 10/04/09</text>
<text transform="translate(182.5,182.6) scale(1.22,1)" font-family="'Liberation Sans', sans-serif" font-size="10.6" font-weight="bold" textLength="162.7" lengthAdjust="spacing" >bSSTepa-rain TMEAN SUB</text>
<text transform="translate(488,182.6) scale(1.22,1)" font-family="'Liberation Sans', sans-serif" font-size="10.6" font-weight="bold" textLength="65.6" lengthAdjust="spacing" >#1-194403</text>
<text transform="translate(135.0,209.5) scale(1.1,1)" font-family="'Liberation Sans', sans-serif" font-size="18.2" font-weight="normal" textLength="22.3" lengthAdjust="spacing" >90</text>
<text transform="translate(135.0,254.33333333333334) scale(1.1,1)" font-family="'Liberation Sans', sans-serif" font-size="18.2" font-weight="normal" textLength="22.3" lengthAdjust="spacing" >60</text>
<text transform="translate(135.0,299.1666666666667) scale(1.1,1)" font-family="'Liberation Sans', sans-serif" font-size="18.2" font-weight="normal" textLength="22.3" lengthAdjust="spacing" >30</text>
<text transform="translate(149.0,344.0) scale(1.1,1)" font-family="'Liberation Sans', sans-serif" font-size="18.2" font-weight="normal" textLength="9.5" lengthAdjust="spacing" >0</text>
<text transform="translate(120.5,388.83333333333337) scale(1.1,1)" font-family="'Liberation Sans', sans-serif" font-size="18.2" font-weight="normal" textLength="35.5" lengthAdjust="spacing" >−30</text>
<text transform="translate(120.5,433.66666666666663) scale(1.1,1)" font-family="'Liberation Sans', sans-serif" font-size="18.2" font-weight="normal" textLength="35.5" lengthAdjust="spacing" >−60</text>
<text transform="translate(120.5,478.5) scale(1.1,1)" font-family="'Liberation Sans', sans-serif" font-size="18.2" font-weight="normal" textLength="35.5" lengthAdjust="spacing" >−90</text>
<text transform="translate(176.25,507.3) scale(1.1,1)" font-family="'Liberation Sans', sans-serif" font-size="18.2" font-weight="normal" textLength="10.5" lengthAdjust="spacing" >0</text>
<text transform="translate(221.16666666666666,507.3) scale(1.1,1)" font-family="'Liberation Sans', sans-serif" font-size="18.2" font-weight="normal" textLength="10.5" lengthAdjust="spacing" >3</text>
<text transform="translate(266.0833333333333,507.3) scale(1.1,1)" font-family="'Liberation Sans', sans-serif" font-size="18.2" font-weight="normal" textLength="10.5" lengthAdjust="spacing" >6</text>
<text transform="translate(311.0,507.3) scale(1.1,1)" font-family="'Liberation Sans', sans-serif" font-size="18.2" font-weight="normal" textLength="10.5" lengthAdjust="spacing" >9</text>
<text transform="translate(349.66666666666663,507.3) scale(1.1,1)" font-family="'Liberation Sans', sans-serif" font-size="18.2" font-weight="normal" textLength="21.8" lengthAdjust="spacing" >12</text>
<text transform="translate(394.58333333333337,507.3) scale(1.1,1)" font-family="'Liberation Sans', sans-serif" font-size="18.2" font-weight="normal" textLength="21.8" lengthAdjust="spacing" >15</text>
<text transform="translate(439.5,507.3) scale(1.1,1)" font-family="'Liberation Sans', sans-serif" font-size="18.2" font-weight="normal" textLength="21.8" lengthAdjust="spacing" >18</text>
<text transform="translate(484.4166666666667,507.3) scale(1.1,1)" font-family="'Liberation Sans', sans-serif" font-size="18.2" font-weight="normal" textLength="21.8" lengthAdjust="spacing" >21</text>
<text transform="translate(529.3333333333333,507.3) scale(1.1,1)" font-family="'Liberation Sans', sans-serif" font-size="18.2" font-weight="normal" textLength="21.8" lengthAdjust="spacing" >24</text>
<text transform="translate(574.25,507.3) scale(1.1,1)" font-family="'Liberation Sans', sans-serif" font-size="18.2" font-weight="normal" textLength="21.8" lengthAdjust="spacing" >27</text>
<text transform="translate(619.1666666666667,507.3) scale(1.1,1)" font-family="'Liberation Sans', sans-serif" font-size="18.2" font-weight="normal" textLength="21.8" lengthAdjust="spacing" >30</text>
<text transform="translate(664.0833333333333,507.3) scale(1.1,1)" font-family="'Liberation Sans', sans-serif" font-size="18.2" font-weight="normal" textLength="21.8" lengthAdjust="spacing" >33</text>
<text transform="translate(709.0,507.3) scale(1.1,1)" font-family="'Liberation Sans', sans-serif" font-size="18.2" font-weight="normal" textLength="21.8" lengthAdjust="spacing" >36</text>
<text transform="translate(670,529.5) scale(1.05,1)" font-family="'Liberation Sans', sans-serif" font-size="18.2" font-weight="normal" textLength="60.5" lengthAdjust="spacing" >(×10)</text>
<text transform="translate(396,552.4) scale(0.95,1)" font-family="'Liberation Sans', sans-serif" font-size="18.5" font-weight="normal" textLength="123.2" lengthAdjust="spacing" >longitude</text>
<g transform="translate(108.5,387) rotate(-90)">
<text transform="translate(0,0) scale(0.95,1)" font-family="'Liberation Sans', sans-serif" font-size="18.5" font-weight="normal" textLength="109.5" lengthAdjust="spacing" >latitude</text>
</g>
<text transform="translate(351,578.8) scale(1.12,1)" font-family="'Liberation Sans', sans-serif" font-size="10.8" font-weight="bold" textLength="180.4" lengthAdjust="spacing" >CONTOUR INTERVAL = 1.000E+02</text>
<text transform="translate(741,207.1) scale(0.98,1)" font-family="'Liberation Sans', sans-serif" font-size="12.3" font-weight="normal" textLength="109.2" lengthAdjust="spacing" >700.DAY Mean</text>
<text transform="translate(741,225.6) scale(0.98,1)" font-family="'Liberation Sans', sans-serif" font-size="12.3" font-weight="normal" textLength="62.2" lengthAdjust="spacing" >(gtsub)</text>
<text transform="translate(741,356.8) scale(0.98,1)" font-family="'Liberation Sans', sans-serif" font-size="12.3" font-weight="normal" textLength="128.1" lengthAdjust="spacing" >20100409000000</text>
<text transform="translate(741,375.45) scale(0.98,1)" font-family="'Liberation Sans', sans-serif" font-size="12.3" font-weight="normal" textLength="63.3" lengthAdjust="spacing" >GLON128</text>
<text transform="translate(741,394.1) scale(0.98,1)" font-family="'Liberation Sans', sans-serif" font-size="12.3" font-weight="normal" textLength="62.8" lengthAdjust="spacing" >(1,129)</text>
<text transform="translate(741,412.75) scale(0.98,1)" font-family="'Liberation Sans', sans-serif" font-size="12.3" font-weight="normal" textLength="55.1" lengthAdjust="spacing" >GGLA64</text>
<text transform="translate(741,431.4) scale(0.98,1)" font-family="'Liberation Sans', sans-serif" font-size="12.3" font-weight="normal" textLength="53.1" lengthAdjust="spacing" >(1,64)</text>
<text transform="translate(741,450.05) scale(0.98,1)" font-family="'Liberation Sans', sans-serif" font-size="12.3" font-weight="normal" textLength="42.3" lengthAdjust="spacing" >−999.</text>
<text transform="translate(741,468.7) scale(0.98,1)" font-family="'Liberation Sans', sans-serif" font-size="12.3" font-weight="normal" textLength="42.3" lengthAdjust="spacing" >−999.</text>
<text transform="translate(741,487.35) scale(0.98,1)" font-family="'Liberation Sans', sans-serif" font-size="12.3" font-weight="normal" textLength="34.2" lengthAdjust="spacing" >100.</text>
<text transform="translate(741,506.0) scale(0.98,1)" font-family="'Liberation Sans', sans-serif" font-size="12.3" font-weight="normal" textLength="42.3" lengthAdjust="spacing" >−999.</text>
<text transform="translate(741,524.65) scale(0.98,1)" font-family="'Liberation Sans', sans-serif" font-size="12.3" font-weight="normal" textLength="136.7" lengthAdjust="spacing" >20031014 115928</text>
<text transform="translate(741,543.3) scale(0.98,1)" font-family="'Liberation Sans', sans-serif" font-size="12.3" font-weight="normal" textLength="54.6" lengthAdjust="spacing" >yukiko</text>
<g shape-rendering="crispEdges">
<rect x="47.0" y="585" width="32.7" height="21" fill="#0000ff"/>
<rect x="79.2" y="585" width="32.7" height="21" fill="#00aaff"/>
<rect x="111.4" y="585" width="32.7" height="21" fill="#00ffaa"/>
<rect x="143.6" y="585" width="32.7" height="21" fill="#00fa00"/>
<rect x="175.8" y="585" width="32.7" height="21" fill="#ffff00"/>
<rect x="208.0" y="585" width="32.7" height="21" fill="#ffaa00"/>
<rect x="240.2" y="585" width="32.7" height="21" fill="#ff0000"/>
<rect x="46" y="606" width="227.5" height="2"/>
<rect x="46.0" y="594" width="2" height="13"/>
<rect x="79" y="601" width="1" height="6"/>
<rect x="110.4" y="594" width="2" height="13"/>
<rect x="143" y="601" width="1" height="6"/>
<rect x="174.8" y="594" width="2" height="13"/>
<rect x="207" y="601" width="1" height="6"/>
<rect x="240" y="601" width="1" height="6"/>
<rect x="271.4" y="594" width="2" height="13"/>
</g>
<text transform="translate(39.5,618.6) scale(1.2,1)" font-family="'Liberation Sans', sans-serif" font-size="9.8" font-weight="bold" textLength="13.3" lengthAdjust="spacing" >−∞</text>
<text transform="translate(93.5,618.6) scale(1.2,1)" font-family="'Liberation Sans', sans-serif" font-size="9.8" font-weight="bold" textLength="30.8" lengthAdjust="spacing" >−21.0</text>
<text transform="translate(162.5,618.6) scale(1.2,1)" font-family="'Liberation Sans', sans-serif" font-size="9.8" font-weight="bold" textLength="23.3" lengthAdjust="spacing" >7.00</text>
<text transform="translate(267.5,618.6) scale(1.2,1)" font-family="'Liberation Sans', sans-serif" font-size="9.8" font-weight="bold" textLength="7.1" lengthAdjust="spacing" >∞</text>
</svg></body></html>
